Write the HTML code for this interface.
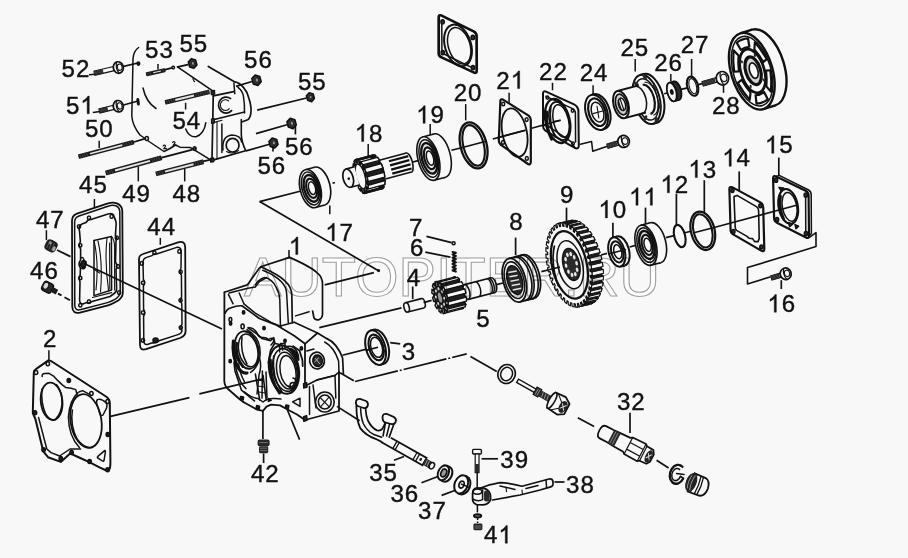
<!DOCTYPE html>
<html><head><meta charset="utf-8"><title>diagram</title>
<style>
html,body{margin:0;padding:0;background:#f8f8f8;}
body{width:908px;height:558px;overflow:hidden;font-family:"Liberation Sans",sans-serif;}
svg{display:block;}
svg text{font-family:"Liberation Sans",sans-serif;}
</style></head><body>
<svg width="908" height="558" viewBox="0 0 908 558">
<rect width="908" height="558" fill="#f8f8f8"/>
<text x="244" y="296" font-size="56" fill="#ffffff" stroke="none">AUTOPITER.RU</text>
<line x1="89" y1="74.7" x2="95" y2="74.2" stroke="#111111" stroke-width="1.5" stroke-linecap="butt"/>
<line x1="92.8" y1="112.4" x2="100.3" y2="111.6" stroke="#111111" stroke-width="1.5" stroke-linecap="butt"/>
<line x1="99.2" y1="140.7" x2="99.2" y2="148" stroke="#111111" stroke-width="1.5" stroke-linecap="butt"/>
<line x1="158" y1="64" x2="158" y2="69.5" stroke="#111111" stroke-width="1.5" stroke-linecap="butt"/>
<line x1="185.6" y1="102.8" x2="185.6" y2="109.5" stroke="#111111" stroke-width="1.5" stroke-linecap="butt"/>
<line x1="138.3" y1="166.4" x2="138.3" y2="181.4" stroke="#111111" stroke-width="1.5" stroke-linecap="butt"/>
<line x1="184.7" y1="168.9" x2="184.7" y2="181.4" stroke="#111111" stroke-width="1.5" stroke-linecap="butt"/>
<g transform="translate(94.4 73.2) rotate(-13.3)">
<rect x="0" y="-2.1" width="19.6" height="4.2" fill="#f8f8f8" stroke="#111111" stroke-width="1.1"/>
<rect x="0" y="-2.4" width="9" height="4.8" rx="1" fill="#2a2a2a"/>
<line x1="1.2" y1="-1.2" x2="1.8" y2="1.2" stroke="#606060" stroke-width="0.55"/>
<line x1="3.4" y1="-1.2" x2="4" y2="1.2" stroke="#606060" stroke-width="0.55"/>
<line x1="5.6" y1="-1.2" x2="6.2" y2="1.2" stroke="#606060" stroke-width="0.55"/>
<line x1="7.8" y1="-1.2" x2="8.4" y2="1.2" stroke="#606060" stroke-width="0.55"/>
<ellipse cx="24.6" cy="0" rx="5" ry="5.8" fill="#f8f8f8" stroke="#111111" stroke-width="1.7"/>
<path d="M24,-5.3 Q21.4,0 24,5.3" fill="none" stroke="#111111" stroke-width="1.2"/>
<ellipse cx="26" cy="0" rx="2.4" ry="3.2" fill="none" stroke="#111111" stroke-width="1.1"/>
</g>
<line x1="123.5" y1="66.3" x2="138" y2="63" stroke="#111111" stroke-width="1.7" stroke-linecap="butt"/>
<ellipse cx="138.4" cy="63.6" rx="1.3" ry="1.6" fill="#222" stroke="#111111" stroke-width="1.5"/>
<g transform="translate(99.4 111) rotate(-14.1)">
<rect x="0" y="-2.1" width="14.5" height="4.2" fill="#f8f8f8" stroke="#111111" stroke-width="1.1"/>
<rect x="0" y="-2.4" width="8.6" height="4.8" rx="1" fill="#2a2a2a"/>
<line x1="1.2" y1="-1.2" x2="1.8" y2="1.2" stroke="#606060" stroke-width="0.55"/>
<line x1="3.4" y1="-1.2" x2="4" y2="1.2" stroke="#606060" stroke-width="0.55"/>
<line x1="5.6" y1="-1.2" x2="6.2" y2="1.2" stroke="#606060" stroke-width="0.55"/>
<ellipse cx="19.5" cy="0" rx="5" ry="5.8" fill="#f8f8f8" stroke="#111111" stroke-width="1.7"/>
<path d="M18.9,-5.3 Q16.3,0 18.9,5.3" fill="none" stroke="#111111" stroke-width="1.2"/>
<ellipse cx="20.9" cy="0" rx="2.4" ry="3.2" fill="none" stroke="#111111" stroke-width="1.1"/>
</g>
<line x1="123.5" y1="105" x2="137.2" y2="101.2" stroke="#111111" stroke-width="1.7" stroke-linecap="butt"/>
<path d="M137.8,99.4 L138.4,104" fill="none" stroke="#111111" stroke-width="2.9" stroke-linejoin="round" stroke-linecap="round" />
<g transform="translate(78.4 156.8) rotate(-14.9)">
<rect x="0" y="-2.3" width="57.5" height="4.6" rx="0.8" fill="#1c1c1c"/>
<rect x="12" y="-0.8" width="33.5" height="1.7" fill="#e4e4e4"/>
<line x1="1.6" y1="-1.4" x2="2.1" y2="1.4" stroke="#606060" stroke-width="0.55"/>
<line x1="4" y1="-1.4" x2="4.5" y2="1.4" stroke="#606060" stroke-width="0.55"/>
<line x1="6.4" y1="-1.4" x2="6.9" y2="1.4" stroke="#606060" stroke-width="0.55"/>
<line x1="8.8" y1="-1.4" x2="9.3" y2="1.4" stroke="#606060" stroke-width="0.55"/>
<line x1="47.4" y1="-1.4" x2="47.9" y2="1.4" stroke="#606060" stroke-width="0.55"/>
<line x1="49.8" y1="-1.4" x2="50.3" y2="1.4" stroke="#606060" stroke-width="0.55"/>
<line x1="52.2" y1="-1.4" x2="52.7" y2="1.4" stroke="#606060" stroke-width="0.55"/>
<line x1="54.6" y1="-1.4" x2="55.1" y2="1.4" stroke="#606060" stroke-width="0.55"/>
</g>
<line x1="134" y1="142" x2="146" y2="138.4" stroke="#111111" stroke-width="1.7" stroke-linecap="butt"/>
<g transform="translate(105.6 173.2) rotate(-15.5)">
<rect x="0" y="-2.5" width="58.3" height="4.9" rx="0.8" fill="#1c1c1c"/>
<rect x="9.8" y="-1" width="36.3" height="2" fill="#e4e4e4"/>
<line x1="1.6" y1="-1.6" x2="2.1" y2="1.6" stroke="#606060" stroke-width="0.55"/>
<line x1="4" y1="-1.6" x2="4.5" y2="1.6" stroke="#606060" stroke-width="0.55"/>
<line x1="6.4" y1="-1.6" x2="6.9" y2="1.6" stroke="#606060" stroke-width="0.55"/>
<line x1="48.1" y1="-1.6" x2="48.6" y2="1.6" stroke="#606060" stroke-width="0.55"/>
<line x1="50.5" y1="-1.6" x2="51" y2="1.6" stroke="#606060" stroke-width="0.55"/>
<line x1="52.9" y1="-1.6" x2="53.4" y2="1.6" stroke="#606060" stroke-width="0.55"/>
<line x1="55.3" y1="-1.6" x2="55.8" y2="1.6" stroke="#606060" stroke-width="0.55"/>
</g>
<line x1="161.8" y1="157.6" x2="192.5" y2="149.6" stroke="#111111" stroke-width="1.7" stroke-linecap="butt"/>
<g transform="translate(155.8 174) rotate(-14.5)">
<rect x="0" y="-2.5" width="49.4" height="4.9" rx="0.8" fill="#1c1c1c"/>
<rect x="9.4" y="-1" width="29.6" height="2" fill="#e4e4e4"/>
<line x1="1.6" y1="-1.6" x2="2.1" y2="1.6" stroke="#606060" stroke-width="0.55"/>
<line x1="4" y1="-1.6" x2="4.5" y2="1.6" stroke="#606060" stroke-width="0.55"/>
<line x1="6.4" y1="-1.6" x2="6.9" y2="1.6" stroke="#606060" stroke-width="0.55"/>
<line x1="40.9" y1="-1.6" x2="41.4" y2="1.6" stroke="#606060" stroke-width="0.55"/>
<line x1="43.3" y1="-1.6" x2="43.8" y2="1.6" stroke="#606060" stroke-width="0.55"/>
<line x1="45.7" y1="-1.6" x2="46.2" y2="1.6" stroke="#606060" stroke-width="0.55"/>
<line x1="48.1" y1="-1.6" x2="48.6" y2="1.6" stroke="#606060" stroke-width="0.55"/>
</g>
<line x1="203" y1="161.4" x2="211" y2="159.6" stroke="#111111" stroke-width="1.7" stroke-linecap="butt"/>
<g transform="translate(165 102.4) rotate(-13.4)">
<rect x="0" y="-2.4" width="45.8" height="4.8" rx="0.8" fill="#1c1c1c"/>
<rect x="10.6" y="-0.9" width="19.2" height="1.9" fill="#e4e4e4"/>
<line x1="1.6" y1="-1.5" x2="2.1" y2="1.5" stroke="#606060" stroke-width="0.55"/>
<line x1="4" y1="-1.5" x2="4.5" y2="1.5" stroke="#606060" stroke-width="0.55"/>
<line x1="6.4" y1="-1.5" x2="6.9" y2="1.5" stroke="#606060" stroke-width="0.55"/>
<line x1="8.8" y1="-1.5" x2="9.3" y2="1.5" stroke="#606060" stroke-width="0.55"/>
<line x1="31.7" y1="-1.5" x2="32.2" y2="1.5" stroke="#606060" stroke-width="0.55"/>
<line x1="34.1" y1="-1.5" x2="34.6" y2="1.5" stroke="#606060" stroke-width="0.55"/>
<line x1="36.5" y1="-1.5" x2="37" y2="1.5" stroke="#606060" stroke-width="0.55"/>
<line x1="38.9" y1="-1.5" x2="39.4" y2="1.5" stroke="#606060" stroke-width="0.55"/>
<line x1="41.3" y1="-1.5" x2="41.8" y2="1.5" stroke="#606060" stroke-width="0.55"/>
<line x1="43.7" y1="-1.5" x2="44.2" y2="1.5" stroke="#606060" stroke-width="0.55"/>
</g>
<g transform="translate(146 74.4) rotate(-12.8)">
<rect x="0" y="-2" width="19.8" height="4" rx="0.8" fill="#1c1c1c"/>
<rect x="7.4" y="-0.6" width="7.9" height="1.1" fill="#e4e4e4"/>
<line x1="1.6" y1="-1.1" x2="2.1" y2="1.1" stroke="#606060" stroke-width="0.55"/>
<line x1="4" y1="-1.1" x2="4.5" y2="1.1" stroke="#606060" stroke-width="0.55"/>
<line x1="17.2" y1="-1.1" x2="17.7" y2="1.1" stroke="#606060" stroke-width="0.55"/>
</g>
<line x1="164.3" y1="69.8" x2="172" y2="67.9" stroke="#111111" stroke-width="1.7" stroke-linecap="butt"/>
<ellipse cx="173.2" cy="67.6" rx="1.3" ry="1.3" fill="none" stroke="#111111" stroke-width="1.5"/>
<g transform="translate(192.6 63.5) rotate(-15)">
<polygon points="3.8,2.5 0,5 -3.8,2.5 -3.8,-2.5 -0,-5 3.8,-2.5" fill="#333" stroke="#111111" stroke-width="1.6" stroke-linejoin="round"/>
<ellipse cx="0.3" cy="0" rx="1.5" ry="1.9" fill="#999" stroke="#111111" stroke-width="0.8"/>
</g>
<line x1="176.8" y1="67.2" x2="188" y2="64.6" stroke="#111111" stroke-width="1.8" stroke-linecap="butt"/>
<g transform="translate(256.5 80.2) rotate(-15)">
<polygon points="4.1,2.7 0,5.4 -4.1,2.7 -4.1,-2.7 -0,-5.4 4.1,-2.7" fill="#333" stroke="#111111" stroke-width="1.6" stroke-linejoin="round"/>
<ellipse cx="0.3" cy="0" rx="1.6" ry="2.1" fill="#999" stroke="#111111" stroke-width="0.8"/>
</g>
<line x1="236" y1="86.4" x2="252" y2="81.5" stroke="#111111" stroke-width="1.7" stroke-linecap="butt"/>
<g transform="translate(310.4 97.2) rotate(-15)">
<polygon points="3.5,2.3 0,4.6 -3.5,2.3 -3.5,-2.3 -0,-4.6 3.5,-2.3" fill="#333" stroke="#111111" stroke-width="1.6" stroke-linejoin="round"/>
<ellipse cx="0.3" cy="0" rx="1.4" ry="1.7" fill="#999" stroke="#111111" stroke-width="0.8"/>
</g>
<line x1="257.2" y1="110.2" x2="306.5" y2="98" stroke="#111111" stroke-width="1.7" stroke-linecap="butt"/>
<g transform="translate(291.6 123.4) rotate(-15)">
<polygon points="4.1,2.7 0,5.4 -4.1,2.7 -4.1,-2.7 -0,-5.4 4.1,-2.7" fill="#333" stroke="#111111" stroke-width="1.6" stroke-linejoin="round"/>
<ellipse cx="0.3" cy="0" rx="1.6" ry="2.1" fill="#999" stroke="#111111" stroke-width="0.8"/>
</g>
<line x1="256" y1="133.6" x2="287" y2="124.8" stroke="#111111" stroke-width="1.7" stroke-linecap="butt"/>
<line x1="295.4" y1="125.4" x2="295.4" y2="134.4" stroke="#111111" stroke-width="1.7" stroke-linecap="butt"/>
<g transform="translate(273.5 143) rotate(-15)">
<polygon points="4,2.6 0,5.2 -4,2.6 -4,-2.6 -0,-5.2 4,-2.6" fill="#333" stroke="#111111" stroke-width="1.6" stroke-linejoin="round"/>
<ellipse cx="0.3" cy="0" rx="1.6" ry="2" fill="#999" stroke="#111111" stroke-width="0.8"/>
</g>
<line x1="246" y1="150.9" x2="269.5" y2="144.2" stroke="#111111" stroke-width="1.7" stroke-linecap="butt"/>
<line x1="273" y1="146" x2="273" y2="151.6" stroke="#111111" stroke-width="1.7" stroke-linecap="butt"/>
<path d="M138.6,47.5 C135,50 133.2,54 133,59 L131.8,116 C132.5,125 136,130 140,135 L145,138.5" fill="none" stroke="#111111" stroke-width="1.5" stroke-linejoin="round" stroke-linecap="round" />
<ellipse cx="146.8" cy="138.6" rx="1.6" ry="2" fill="none" stroke="#111111" stroke-width="1.5"/>
<path d="M147.5,140.5 L164,151.5 L170,148.5 L175.5,145 L180,147.2 L190.5,147.6 L196.7,151.4 L211,160.2" fill="none" stroke="#111111" stroke-width="1.5" stroke-linejoin="round" stroke-linecap="round" />
<path d="M163,146 q1.5,-1.8 2.6,0 q-0.5,1.6 -2,2.6 l3,0" fill="none" stroke="#111111" stroke-width="1.1" stroke-linejoin="round" stroke-linecap="round" />
<path d="M172.5,142.5 q1.5,-1.8 2.6,0 q-0.5,1.6 -2,2.6 l3,0" fill="none" stroke="#111111" stroke-width="1.1" stroke-linejoin="round" stroke-linecap="round" />
<ellipse cx="194.6" cy="148.6" rx="1.6" ry="1.8" fill="#444" stroke="#111111" stroke-width="1.5"/>
<path d="M177.8,67.2 L213,91.2" fill="none" stroke="#111111" stroke-width="1.6" stroke-linejoin="round" stroke-linecap="round" />
<path d="M192.6,79 q1.6,-0.6 1.2,1 q-0.6,1.4 0.8,1.6" fill="none" stroke="#111111" stroke-width="1.1" stroke-linejoin="round" stroke-linecap="round" />
<path d="M143,88 Q146,102 156,108.5" fill="none" stroke="#111111" stroke-width="1.5" stroke-linejoin="round" stroke-linecap="round" />
<path d="M185.7,129 Q189,137.5 196,136.8 Q204,134 205.8,122.8" fill="none" stroke="#111111" stroke-width="1.5" stroke-linejoin="round" stroke-linecap="round" />
<path d="M213.3,93 L212,160.4 L245.6,150.8" fill="none" stroke="#111111" stroke-width="1.7" stroke-linejoin="round" stroke-linecap="round" />
<path d="M211.2,91 l3.2,-0.6 l0.2,3.6 l-3.2,0.5 Z" fill="#333" stroke="#111111" stroke-width="1.5" stroke-linejoin="round" stroke-linecap="round" />
<path d="M210.6,158.6 l3,-0.6 l0.2,3.4 l-3,0.6 Z" fill="#333" stroke="#111111" stroke-width="1.5" stroke-linejoin="round" stroke-linecap="round" />
<path d="M208.3,66.4 L234.8,81.9 C241,83 247,90 248.8,98 Q251.4,106 251,111.5 Q250.6,118 247.7,119.8 L242.4,121.7" fill="none" stroke="#111111" stroke-width="1.7" stroke-linejoin="round" stroke-linecap="round" />
<path d="M233.9,83 L234.8,93.7" fill="none" stroke="#111111" stroke-width="1.5" stroke-linejoin="round" stroke-linecap="round" />
<path d="M213.3,95.9 L233.7,91.6" fill="none" stroke="#111111" stroke-width="1.6" stroke-linejoin="round" stroke-linecap="round" />
<path d="M238,87.3 Q242.6,91 243.4,96 Q244.8,104 244.5,113" fill="none" stroke="#111111" stroke-width="1.5" stroke-linejoin="round" stroke-linecap="round" />
<path d="M213.3,119.8 L244.5,112" fill="none" stroke="#111111" stroke-width="1.6" stroke-linejoin="round" stroke-linecap="round" />
<path d="M213.3,122.6 L222,120.2" fill="none" stroke="#111111" stroke-width="1.1" stroke-linejoin="round" stroke-linecap="round" />
<path d="M211.4,119 l3,-0.5 l0.1,4.4 l-3,0.5 Z" fill="#333" stroke="#111111" stroke-width="1.1" stroke-linejoin="round" stroke-linecap="round" />
<path d="M241.3,119.6 L241.3,134.6 Q241.6,142 245.6,150.4" fill="none" stroke="#111111" stroke-width="1.6" stroke-linejoin="round" stroke-linecap="round" />
<path d="M221.9,123.9 L221.9,152.6" fill="none" stroke="#111111" stroke-width="1.5" stroke-linejoin="round" stroke-linecap="round" />
<path d="M217,122 L217,158.6" fill="none" stroke="#111111" stroke-width="1.1" stroke-linejoin="round" stroke-linecap="round" />
<path d="M230.6,98.6 A7.6,8 0 1 0 231.6,110.6" fill="none" stroke="#111111" stroke-width="1.7" stroke-linejoin="round" stroke-linecap="round" />
<path d="M228.6,101 A5,5.4 0 1 0 229.2,108.6" fill="none" stroke="#111111" stroke-width="1.1" stroke-linejoin="round" stroke-linecap="round" />
<ellipse cx="232.6" cy="145.2" rx="6.4" ry="6.8" fill="none" stroke="#111111" stroke-width="1.7"/>
<path d="M223,150 Q221.6,136 232,135 Q241,135.6 241.6,142" fill="none" stroke="#111111" stroke-width="1.5" stroke-linejoin="round" stroke-linecap="round" />
<path d="M226.5,151.5 Q232,155 238.6,150.6" fill="none" stroke="#111111" stroke-width="1.1" stroke-linejoin="round" stroke-linecap="round" />
<line x1="94.4" y1="199" x2="94.4" y2="207" stroke="#111111" stroke-width="1.5" stroke-linecap="butt"/>
<line x1="160.3" y1="237.9" x2="160.3" y2="244.8" stroke="#111111" stroke-width="1.5" stroke-linecap="butt"/>
<line x1="46.4" y1="230.2" x2="46.4" y2="240.2" stroke="#111111" stroke-width="1.5" stroke-linecap="butt"/>
<line x1="48.9" y1="350.3" x2="48.9" y2="360.5" stroke="#111111" stroke-width="1.5" stroke-linecap="butt"/>
<g transform="translate(51.6 246.2) rotate(27)">
<rect x="-6.6" y="-5.8" width="12" height="11.6" rx="4" fill="#1c1c1c"/>
<line x1="-4" y1="-4" x2="-3.6" y2="4" stroke="#6a6a6a" stroke-width="0.7"/>
<line x1="-1.4" y1="-4" x2="-1" y2="4" stroke="#6a6a6a" stroke-width="0.7"/>
<line x1="1.2" y1="-4" x2="1.6" y2="4" stroke="#6a6a6a" stroke-width="0.7"/>
<ellipse cx="3.2" cy="1.2" rx="1.5" ry="2.6" fill="#aaa"/>
<ellipse cx="-2.6" cy="-2.4" rx="1.2" ry="1.6" fill="#999"/>
</g>
<line x1="57" y1="250" x2="70.5" y2="256.6" stroke="#111111" stroke-width="1.8" stroke-linecap="butt"/>
<g transform="translate(48.6 287.8) rotate(27)">
<rect x="-6.4" y="-5" width="10.4" height="10" rx="3" fill="#2a2a2a" stroke="#111111" stroke-width="1.4"/>
<ellipse cx="-3.4" cy="-0.6" rx="2.6" ry="3.6" fill="#d8d8d8" stroke="#111111" stroke-width="1"/>
<rect x="4" y="-2.6" width="5.4" height="5.2" fill="#1c1c1c"/>
</g>
<line x1="58" y1="293.6" x2="61.5" y2="295.4" stroke="#111111" stroke-width="1.8" stroke-linecap="butt"/>
<line x1="64.5" y1="297.2" x2="70" y2="300.2" stroke="#111111" stroke-width="1.8" stroke-linecap="butt"/>
<path d="M72,221 Q72,215.5 77,213.6 L108,203.4 Q113,201.6 117.5,203.6 Q122.3,206 122.3,211 L122.8,293 Q122.6,298.5 116,301.8 Q112,304.2 108,305.3 L80,312.6 Q72.6,314.2 72.3,307 Z" fill="none" stroke="#111111" stroke-width="1.8" stroke-linejoin="round" stroke-linecap="round" />
<path d="M74.6,222.5 Q74.6,217.5 79,216 L108,206.2 Q113,204.4 116.5,206 Q119.8,208 119.8,212 L120.2,292 Q120,296.5 115,299.4 Q111,301.6 107.5,302.6 L81,309.6 Q75,311 74.8,305.6 Z" fill="none" stroke="#111111" stroke-width="1.5" stroke-linejoin="round" stroke-linecap="round" />
<path d="M79.5,231 Q78,226 82,224 L86,222.5 Q88,219 91,219.6 L108,214 Q112,212.5 113.5,215 L115,219 Q116.6,222 116,226 L115.4,236 Q117.5,238 116,241 L115.5,262 Q118,266 116,269.5 L116.6,288 Q117,292 113.5,294 L110,296.5 L92,301.4 Q89,304 86.6,302.6 L83,304 Q79.6,304 79.6,300 L80,282 Q78.4,278 80.2,275 L80.4,268 Q77.6,264 80.6,260 L80.6,249 Q78,245 80.4,241.6 Z" fill="none" stroke="#111111" stroke-width="1.6" stroke-linejoin="round" stroke-linecap="round" />
<ellipse cx="79" cy="226.6" rx="1.6" ry="1.8" fill="none" stroke="#111111" stroke-width="1.5"/>
<ellipse cx="89" cy="217.8" rx="1.6" ry="1.8" fill="none" stroke="#111111" stroke-width="1.5"/>
<ellipse cx="111.6" cy="216.4" rx="1.6" ry="1.8" fill="none" stroke="#111111" stroke-width="1.5"/>
<ellipse cx="116.8" cy="237.8" rx="1.6" ry="1.8" fill="none" stroke="#111111" stroke-width="1.5"/>
<ellipse cx="117.9" cy="266.4" rx="1.6" ry="1.8" fill="none" stroke="#111111" stroke-width="1.5"/>
<ellipse cx="119.1" cy="292.6" rx="1.6" ry="1.8" fill="none" stroke="#111111" stroke-width="1.5"/>
<ellipse cx="89" cy="301.6" rx="1.6" ry="1.8" fill="none" stroke="#111111" stroke-width="1.5"/>
<ellipse cx="80.3" cy="305.2" rx="1.6" ry="1.8" fill="none" stroke="#111111" stroke-width="1.5"/>
<ellipse cx="80.3" cy="278" rx="1.6" ry="1.8" fill="none" stroke="#111111" stroke-width="1.5"/>
<ellipse cx="80.3" cy="245.2" rx="1.6" ry="1.8" fill="none" stroke="#111111" stroke-width="1.5"/>
<ellipse cx="83.4" cy="264" rx="2.6" ry="3.4" fill="#222" stroke="#111111" stroke-width="1.5" transform="rotate(20 83.4 264)"/>
<path d="M80.6,258 q3,-2 3.4,3 M81,268 q3,2 4.4,-1" fill="none" stroke="#111111" stroke-width="1.5" stroke-linejoin="round" stroke-linecap="round" />
<path d="M94,240.4 L111.4,236.4 L111.6,290 L94,295.6 Z" fill="none" stroke="#111111" stroke-width="1.5" stroke-linejoin="round" stroke-linecap="round" />
<path d="M94,240.4 Q99,262 96,290 M98,241 Q103,262 100.5,292" fill="none" stroke="#111111" stroke-width="1.1" stroke-linejoin="round" stroke-linecap="round" />
<path d="M107,238 Q104.4,262 108.6,290.6 M109.6,243 L109.8,289" fill="none" stroke="#111111" stroke-width="1.1" stroke-linejoin="round" stroke-linecap="round" />
<path d="M111.4,236.4 Q115,240 114.6,250 L114.6,290 M92.4,297.5 L111.6,292.6" fill="none" stroke="#111111" stroke-width="1.1" stroke-linejoin="round" stroke-linecap="round" />
<path d="M93.6,269 L99.6,273" fill="none" stroke="#111111" stroke-width="1.1" stroke-linejoin="round" stroke-linecap="round" />
<line x1="84" y1="263.6" x2="222" y2="329" stroke="#111111" stroke-width="1.7" stroke-linecap="butt"/>
<path d="M139,259 Q139,255.2 143,254 L178,242.4 Q185,240.4 185.2,247 L185.6,331 Q185.6,336 180,338 L146,349.2 Q140,350.8 140,345 Z" fill="none" stroke="#111111" stroke-width="1.8" stroke-linejoin="round" stroke-linecap="round" />
<path d="M143,263.5 Q142.6,258.6 146.6,257.4 L152,255.6 Q154,253 156.6,254 L176,247.6 Q181,246.4 181.2,251 L181,268 Q179,272 181.4,275 L181.6,297 Q179.4,300.4 181.8,303.6 L182,324 Q179.8,328 182,330.6 Q182,333.4 178,334.6 L159,340.8 Q155.6,343.6 152.4,342.8 L148,344.2 Q143.8,345.2 143.8,341 L143.6,316 Q146,312.6 143.6,309.4 L143.4,286 Q146,282.6 143.4,279.6 Z" fill="none" stroke="#111111" stroke-width="1.5" stroke-linejoin="round" stroke-linecap="round" />
<ellipse cx="141.8" cy="263.4" rx="1.6" ry="1.8" fill="none" stroke="#111111" stroke-width="1.5"/>
<ellipse cx="154.4" cy="252.8" rx="1.6" ry="1.8" fill="none" stroke="#111111" stroke-width="1.5"/>
<ellipse cx="179.4" cy="251.4" rx="1.6" ry="1.8" fill="none" stroke="#111111" stroke-width="1.5"/>
<ellipse cx="180.6" cy="271.8" rx="1.6" ry="1.8" fill="none" stroke="#111111" stroke-width="1.5"/>
<ellipse cx="143" cy="282.8" rx="1.6" ry="1.8" fill="none" stroke="#111111" stroke-width="1.5"/>
<ellipse cx="180.6" cy="300.2" rx="1.6" ry="1.8" fill="none" stroke="#111111" stroke-width="1.5"/>
<ellipse cx="143" cy="312.6" rx="1.6" ry="1.8" fill="none" stroke="#111111" stroke-width="1.5"/>
<ellipse cx="180.8" cy="327.6" rx="1.6" ry="1.8" fill="none" stroke="#111111" stroke-width="1.5"/>
<ellipse cx="143" cy="340.4" rx="1.6" ry="1.8" fill="none" stroke="#111111" stroke-width="1.5"/>
<ellipse cx="155.6" cy="340.2" rx="2.6" ry="2.2" fill="#222" stroke="#111111" stroke-width="1.5"/>
<path d="M48,360.6 Q50.4,360.2 52.6,362 L106,396.5 Q109.8,399 109.8,403 L110.4,462 Q110.6,471 107.4,471 L100,467.6 L88.8,461.9 L78,457 L70.1,453.4 L60.8,461.9 L48,457.2 L43.3,451.4 L35.4,419 L32.8,413 L33.8,372.6 Q34,370 36.6,368.6 Z" fill="none" stroke="#111111" stroke-width="2" stroke-linejoin="round" stroke-linecap="round" />
<ellipse cx="51.6" cy="401.3" rx="10.8" ry="18.8" fill="none" stroke="#111111" stroke-width="1.8" transform="rotate(-6 51.6 401.3)"/>
<path d="M42,389 Q40.6,402 45.6,414 Q49.6,420.6 55,419.8" fill="none" stroke="#111111" stroke-width="1.5" stroke-linejoin="round" stroke-linecap="round" />
<ellipse cx="86" cy="421" rx="15.4" ry="27" fill="none" stroke="#111111" stroke-width="1.8" transform="rotate(-9 86 421)"/>
<path d="M72.4,410 Q70,425 77,439 Q84,448.6 92,447.6" fill="none" stroke="#111111" stroke-width="1.5" stroke-linejoin="round" stroke-linecap="round" />
<path d="M56.6,384.6 Q62.6,392 62,404 Q61,413.6 56,418.6" fill="none" stroke="#111111" stroke-width="1.5" stroke-linejoin="round" stroke-linecap="round" />
<path d="M78,392.6 Q69.6,400 68.4,417 Q68.6,436 79.4,447.6" fill="none" stroke="#111111" stroke-width="1.5" stroke-linejoin="round" stroke-linecap="round" />
<path d="M42.2,376.6 Q41.6,373.6 45,373.4 L48.6,373.2 L54,376.4 L57.6,380.4 L62,384.6 L65.6,387.4 L71,388.2 L75.8,389.6 L77.2,395.6" fill="none" stroke="#111111" stroke-width="1.5" stroke-linejoin="round" stroke-linecap="round" />
<path d="M79,392 L82.6,390.6 L90,394.6" fill="none" stroke="#111111" stroke-width="1.5" stroke-linejoin="round" stroke-linecap="round" />
<path d="M97.4,399.6 Q101,398 106,402.6 Q107.6,404 106.6,408 L103,415 Q100.6,416.6 99.6,413 L96.6,403 Q96.4,400.6 97.4,399.6 Z" fill="none" stroke="#111111" stroke-width="1.5" stroke-linejoin="round" stroke-linecap="round" />
<path d="M97.6,456.6 L104.6,450.6 Q105.6,450.4 105.4,452 L104,460.6 Q103.6,461.8 102.4,461 L97.8,458 Q97,457.4 97.6,456.6 Z" fill="none" stroke="#111111" stroke-width="1.5" stroke-linejoin="round" stroke-linecap="round" />
<path d="M38.6,417.6 L46.8,449 L51,452.6 L59.6,456 L70.1,449 L80.6,449" fill="none" stroke="#111111" stroke-width="1.5" stroke-linejoin="round" stroke-linecap="round" />
<ellipse cx="47.8" cy="363.8" rx="1.7" ry="2" fill="none" stroke="#111111" stroke-width="1.5"/>
<ellipse cx="36" cy="372.4" rx="1.7" ry="2" fill="none" stroke="#111111" stroke-width="1.5"/>
<ellipse cx="68.8" cy="380.4" rx="1.7" ry="2" fill="#222" stroke="#111111" stroke-width="1.5"/>
<ellipse cx="91.4" cy="393.4" rx="1.7" ry="2" fill="none" stroke="#111111" stroke-width="1.5"/>
<ellipse cx="107.6" cy="401.6" rx="1.7" ry="2" fill="none" stroke="#111111" stroke-width="1.5"/>
<ellipse cx="35" cy="412.8" rx="1.7" ry="2" fill="#222" stroke="#111111" stroke-width="1.5"/>
<ellipse cx="43.6" cy="449.8" rx="1.7" ry="2" fill="#222" stroke="#111111" stroke-width="1.5"/>
<ellipse cx="60.8" cy="458.6" rx="1.7" ry="2" fill="#222" stroke="#111111" stroke-width="1.5"/>
<ellipse cx="71.6" cy="452.4" rx="1.7" ry="2" fill="#222" stroke="#111111" stroke-width="1.5"/>
<ellipse cx="89.6" cy="461.4" rx="1.7" ry="2" fill="#222" stroke="#111111" stroke-width="1.5"/>
<ellipse cx="107.6" cy="469.8" rx="1.7" ry="2" fill="#222" stroke="#111111" stroke-width="1.5"/>
<ellipse cx="107.8" cy="434.6" rx="1.7" ry="2" fill="#222" stroke="#111111" stroke-width="1.5"/>
<line x1="110.6" y1="416.4" x2="189.4" y2="397.7" stroke="#111111" stroke-width="1.7" stroke-linecap="butt"/>
<line x1="199.4" y1="393.9" x2="263" y2="378.8" stroke="#111111" stroke-width="1.7" stroke-linecap="butt"/>
<line x1="289" y1="250" x2="289" y2="257.6" stroke="#111111" stroke-width="1.5" stroke-linecap="butt"/>
<path d="M224.4,292.3 L224.3,381 Q224.6,386 228,389 L240,399.5 Q243,402 246,403.5 L257,409.6 L263,410.8 L266.5,406.6 L271,404.7 L280,405.4 L287,409.2 L297,414.5 L305,420 L339,411 L339,372" fill="none" stroke="#111111" stroke-width="1.8" stroke-linejoin="round" stroke-linecap="round" />
<path d="M224.4,292.3 L247.3,284.9 L259.4,268.1 L260.7,266.8 L289.6,257.4" fill="none" stroke="#111111" stroke-width="1.7" stroke-linejoin="round" stroke-linecap="round" />
<path d="M229.1,293 L247.9,288.3 L255.3,287 L259.4,281.6 L266.7,277.6" fill="none" stroke="#111111" stroke-width="1.5" stroke-linejoin="round" stroke-linecap="round" />
<path d="M228.4,294.4 L233.1,303.8 M239.2,293 L243.9,303.8" fill="none" stroke="#111111" stroke-width="1.5" stroke-linejoin="round" stroke-linecap="round" />
<path d="M289.6,257.4 C300,262 312,268 317.2,272.8 Q322.5,277 322.5,284 L322.5,314.5 Q322,318.6 319,319.6 Q315.6,320.4 314,318 L312.6,311" fill="none" stroke="#111111" stroke-width="1.7" stroke-linejoin="round" stroke-linecap="round" />
<path d="M260.7,266.8 C268,270 279,275 284.9,280.9 Q291.6,287 291.8,295 L292.3,322.6" fill="none" stroke="#111111" stroke-width="1.7" stroke-linejoin="round" stroke-linecap="round" />
<path d="M262.7,270.2 C270,273 278,278 281.6,282 Q286.2,287 286.6,293 L288.3,322.8" fill="none" stroke="#111111" stroke-width="1.5" stroke-linejoin="round" stroke-linecap="round" />
<path d="M255.3,284.9 Q259,279 264.7,277.6 Q272,279 276,287 Q279.5,293 279.8,300 L280.4,325" fill="none" stroke="#111111" stroke-width="1.5" stroke-linejoin="round" stroke-linecap="round" />
<path d="M280.4,326 L294.2,322.3" fill="none" stroke="#111111" stroke-width="1.5" stroke-linejoin="round" stroke-linecap="round" />
<path d="M295.6,315.9 L309.1,311.8" fill="none" stroke="#111111" stroke-width="1.5" stroke-linejoin="round" stroke-linecap="round" />
<path d="M294.2,322.3 L317.5,333" fill="none" stroke="#111111" stroke-width="1.5" stroke-linejoin="round" stroke-linecap="round" />
<path d="M225.1,313.2 Q227,309 231.1,307.8 Q237,305.4 241.9,305.8 L259.4,318.5 L275.5,324.6 L294.2,335.7 L305,343.8" fill="none" stroke="#111111" stroke-width="1.7" stroke-linejoin="round" stroke-linecap="round" />
<path d="M243.9,303.8 L255.3,313.2 L271.5,322.6 L281,326.4" fill="none" stroke="#111111" stroke-width="1.5" stroke-linejoin="round" stroke-linecap="round" />
<path d="M305,343.8 L305,384" fill="none" stroke="#111111" stroke-width="1.8" stroke-linejoin="round" stroke-linecap="round" />
<path d="M305,343.8 L317.5,333 L326.5,338.4 Q337,343 342.6,358 L343.4,374" fill="none" stroke="#111111" stroke-width="1.7" stroke-linejoin="round" stroke-linecap="round" />
<path d="M324.7,342 Q334,347 338.6,361 L339,374" fill="none" stroke="#111111" stroke-width="1.5" stroke-linejoin="round" stroke-linecap="round" />
<path d="M306.8,350.9 L313.9,349.1" fill="none" stroke="#111111" stroke-width="1.5" stroke-linejoin="round" stroke-linecap="round" />
<ellipse cx="317" cy="360.6" rx="7.4" ry="8.4" fill="none" stroke="#111111" stroke-width="1.7" transform="rotate(-10 317 360.6)"/>
<ellipse cx="317.6" cy="360.8" rx="4.8" ry="5.8" fill="#2a2a2a" stroke="#111111" stroke-width="1.5" transform="rotate(-10 317.6 360.8)"/>
<path d="M315.4,358.4 L319.6,363.6 M314.6,362 L318.6,358" fill="none" stroke="#bbb" stroke-width="1" stroke-linejoin="round" stroke-linecap="round" />
<path d="M305,386 L317.5,379.8 L335.4,375.2 L339,372" fill="none" stroke="#111111" stroke-width="1.6" stroke-linejoin="round" stroke-linecap="round" />
<path d="M309.5,386.6 L309.5,414.6 M313,385 L316,408" fill="none" stroke="#111111" stroke-width="1.5" stroke-linejoin="round" stroke-linecap="round" />
<path d="M317,380 L335,375.4 L335.8,398" fill="none" stroke="#111111" stroke-width="1.5" stroke-linejoin="round" stroke-linecap="round" />
<ellipse cx="324.8" cy="402" rx="9.4" ry="10" fill="none" stroke="#111111" stroke-width="1.6"/>
<ellipse cx="324.8" cy="402" rx="6.4" ry="7" fill="none" stroke="#111111" stroke-width="1.6"/>
<path d="M320.6,398 L329,406.6 M321,406.4 L328.6,397.6" fill="none" stroke="#111111" stroke-width="1.1" stroke-linejoin="round" stroke-linecap="round" />
<path d="M303.6,383.6 l3,-1 l0.4,4.4 l-3.2,1 Z" fill="#2a2a2a" stroke="#111111" stroke-width="1.5" stroke-linejoin="round" stroke-linecap="round" />
<path d="M303.6,416.6 l3,-1 l0.4,4.6 l-3.2,1 Z" fill="#2a2a2a" stroke="#111111" stroke-width="1.5" stroke-linejoin="round" stroke-linecap="round" />
<ellipse cx="246.7" cy="350" rx="11.8" ry="19" fill="none" stroke="#111111" stroke-width="1.8" transform="rotate(-12 246.7 350)"/>
<ellipse cx="248.2" cy="350.4" rx="9.4" ry="16.6" fill="none" stroke="#111111" stroke-width="1.5" transform="rotate(-12 248.2 350.4)"/>
<path d="M236.6,343 Q235,356 243,366.6" fill="none" stroke="#111111" stroke-width="2.7" stroke-linejoin="round" stroke-linecap="round" />
<path d="M242,337 Q240,352 247,364" fill="none" stroke="#111111" stroke-width="1.5" stroke-linejoin="round" stroke-linecap="round" />
<ellipse cx="284" cy="369.6" rx="14.8" ry="24.4" fill="none" stroke="#111111" stroke-width="2" transform="rotate(-10 284 369.6)"/>
<ellipse cx="285.4" cy="370" rx="12.4" ry="21.6" fill="none" stroke="#111111" stroke-width="1.6" transform="rotate(-10 285.4 370)"/>
<ellipse cx="286.8" cy="370.6" rx="10" ry="18.6" fill="none" stroke="#111111" stroke-width="1.5" transform="rotate(-10 286.8 370.6)"/>
<ellipse cx="288" cy="371.2" rx="7.8" ry="15.8" fill="none" stroke="#111111" stroke-width="1.5" transform="rotate(-10 288 371.2)"/>
<path d="M270.4,360 Q269.6,380 279.6,393" fill="none" stroke="#111111" stroke-width="2.9" stroke-linejoin="round" stroke-linecap="round" />
<path d="M273.6,356 Q272,378 282,392" fill="none" stroke="#111111" stroke-width="1.5" stroke-linejoin="round" stroke-linecap="round" />
<path d="M288,386 Q293,391 296.4,385 Q297.6,379 293,378" fill="none" stroke="#111111" stroke-width="1.6" stroke-linejoin="round" stroke-linecap="round" />
<ellipse cx="292.6" cy="386" rx="2.6" ry="3.4" fill="none" stroke="#111111" stroke-width="1.5"/>
<path d="M247,329.6 Q261.6,338 260,356 Q258.4,367 250.6,372.4" fill="none" stroke="#111111" stroke-width="1.5" stroke-linejoin="round" stroke-linecap="round" />
<path d="M233.4,341 Q231.6,356 238.6,368.4 Q242,373.6 247,373" fill="none" stroke="#111111" stroke-width="3.2" stroke-linejoin="round" stroke-linecap="round" />
<path d="M247.9,327.9 L257.6,334.4 L262,338.6 L270.5,340.8 L273.7,337.6 L274.8,343 L270.5,350.5 L268.3,362.3 L270.5,373" fill="none" stroke="#111111" stroke-width="1.6" stroke-linejoin="round" stroke-linecap="round" />
<path d="M293,346.2 L299.5,350.5 L302.4,360 L302.7,366" fill="none" stroke="#111111" stroke-width="1.8" stroke-linejoin="round" stroke-linecap="round" />
<path d="M291,349 L296.6,352.6 L298.6,360 Z" fill="#2a2a2a" stroke="#111111" stroke-width="1.5" stroke-linejoin="round" stroke-linecap="round" />
<path d="M255.4,374.1 L259.7,399.9 M263,375.2 L266.2,399.9" fill="none" stroke="#111111" stroke-width="1.6" stroke-linejoin="round" stroke-linecap="round" />
<path d="M257.4,380 L263.6,381 M258.2,386 L264.4,387 M259,392 L265.2,393" fill="none" stroke="#111111" stroke-width="1.1" stroke-linejoin="round" stroke-linecap="round" />
<path d="M234,362.3 L235,370.9 L241.5,390.2 L254.4,400.9" fill="none" stroke="#111111" stroke-width="1.6" stroke-linejoin="round" stroke-linecap="round" />
<path d="M280.6,343.6 L285,343.6 L285,348.4 L280.8,348.4" fill="none" stroke="#111111" stroke-width="1.5" stroke-linejoin="round" stroke-linecap="round" />
<ellipse cx="230.6" cy="323.6" rx="1.2" ry="1.6" fill="#222" stroke="#111111" stroke-width="1.5"/>
<ellipse cx="243.6" cy="312.4" rx="1.2" ry="1.6" fill="#222" stroke="#111111" stroke-width="1.5"/>
<ellipse cx="264" cy="328.2" rx="1.2" ry="1.6" fill="#222" stroke="#111111" stroke-width="1.5"/>
<ellipse cx="285" cy="340.8" rx="1.2" ry="1.6" fill="#222" stroke="#111111" stroke-width="1.5"/>
<ellipse cx="230.2" cy="361.2" rx="1.2" ry="1.6" fill="#222" stroke="#111111" stroke-width="1.5"/>
<ellipse cx="301.4" cy="348.4" rx="1.2" ry="1.6" fill="#222" stroke="#111111" stroke-width="1.5"/>
<ellipse cx="230.4" cy="319.6" rx="1.4" ry="2.2" fill="none" stroke="#111111" stroke-width="1.5"/>
<ellipse cx="242.6" cy="326.4" rx="1.6" ry="2.4" fill="none" stroke="#111111" stroke-width="1.5"/>
<path d="M249,327.6 Q254,328 257,333 Q258,337 262,337.6 Q266,337 268.6,339.6 Q270.6,337.4 273.6,338.6 Q274.6,342 271,345" fill="none" stroke="#111111" stroke-width="1.5" stroke-linejoin="round" stroke-linecap="round" />
<path d="M275,343.6 L282,345 L282.6,350 M279.6,345.6 L279.6,352" fill="none" stroke="#111111" stroke-width="1.5" stroke-linejoin="round" stroke-linecap="round" />
<path d="M286.6,346.6 Q293,345 296.6,351 Q299,355 298.6,360" fill="none" stroke="#111111" stroke-width="1.6" stroke-linejoin="round" stroke-linecap="round" />
<path d="M290.6,348.6 Q295,349.6 296.4,356" fill="none" stroke="#111111" stroke-width="1.5" stroke-linejoin="round" stroke-linecap="round" />
<path d="M234.6,360.6 Q236,372 240.6,381.6 Q243,386 246,388.6" fill="none" stroke="#111111" stroke-width="1.5" stroke-linejoin="round" stroke-linecap="round" />
<path d="M238.6,364 Q240,374 244.6,382" fill="none" stroke="#111111" stroke-width="1.5" stroke-linejoin="round" stroke-linecap="round" />
<path d="M259.6,358.6 Q262,366 259,375 L257,394 M262.4,371 L262,398" fill="none" stroke="#111111" stroke-width="1.5" stroke-linejoin="round" stroke-linecap="round" />
<path d="M266,372 L267,398" fill="none" stroke="#111111" stroke-width="1.5" stroke-linejoin="round" stroke-linecap="round" />
<path d="M244.6,392 Q252,398 258,398.6 L263,402 Q268,398 275,398.6 L281,399" fill="none" stroke="#111111" stroke-width="1.5" stroke-linejoin="round" stroke-linecap="round" />
<path d="M240.6,396.4 l3,0.6 l-0.4,3 l-3,-1 Z M256.6,405.6 l3,0.6 l-0.4,3 l-3,-1 Z M285.8,405 l3,0.6 l-0.4,3 l-3,-1 Z" fill="#222" stroke="#111111" stroke-width="1.5" stroke-linejoin="round" stroke-linecap="round" />
<path d="M268.6,398.6 l2.6,1.8 l-2.8,1 Z" fill="#222" stroke="#111111" stroke-width="1.5" stroke-linejoin="round" stroke-linecap="round" />
<path d="M292.6,401.8 L300,398.2 L300,406.4 Z" fill="none" stroke="#111111" stroke-width="1.5" stroke-linejoin="round" stroke-linecap="round" />
<line x1="262.9" y1="411" x2="262.9" y2="439" stroke="#111111" stroke-width="1.7" stroke-linecap="butt"/>
<line x1="287.4" y1="410" x2="299.6" y2="439.6" stroke="#111111" stroke-width="1.7" stroke-linecap="butt"/>
<g transform="translate(263.6 446.2) rotate(0)">
<rect x="-6" y="-6.6" width="12" height="6.6" rx="2" fill="#262626"/>
<rect x="-4.6" y="0" width="9.2" height="7" rx="1.4" fill="#262626"/>
<path d="M-4.4,-3.6 L4.4,-3.6 M-3.6,2 L3.6,2 M-3.6,4.4 L3.6,4.4" stroke="#909090" stroke-width="0.7"/>
</g>
<line x1="263.6" y1="453.4" x2="263.6" y2="463" stroke="#111111" stroke-width="1.7" stroke-linecap="butt"/>
<line x1="319.3" y1="327.6" x2="401.5" y2="307.9" stroke="#111111" stroke-width="1.7" stroke-linecap="butt"/>
<line x1="324.7" y1="284.8" x2="373.9" y2="272.7" stroke="#111111" stroke-width="1.7" stroke-linecap="butt"/>
<line x1="342.5" y1="355.2" x2="367.6" y2="348.9" stroke="#111111" stroke-width="1.7" stroke-linecap="butt"/>
<line x1="340" y1="372.7" x2="353.8" y2="380.8" stroke="#111111" stroke-width="1.7" stroke-linecap="butt"/>
<line x1="337" y1="406.4" x2="359.6" y2="420.8" stroke="#111111" stroke-width="1.7" stroke-linecap="butt"/>
<line x1="329.8" y1="205.4" x2="329.8" y2="214.2" stroke="#111111" stroke-width="1.5" stroke-linecap="butt"/>
<line x1="368.2" y1="143.9" x2="368.2" y2="156.5" stroke="#111111" stroke-width="1.5" stroke-linecap="butt"/>
<line x1="430.2" y1="123.9" x2="430.2" y2="135.1" stroke="#111111" stroke-width="1.5" stroke-linecap="butt"/>
<line x1="465.7" y1="104.1" x2="465.7" y2="120.4" stroke="#111111" stroke-width="1.5" stroke-linecap="butt"/>
<line x1="509.1" y1="92.8" x2="509.1" y2="102.8" stroke="#111111" stroke-width="1.5" stroke-linecap="butt"/>
<line x1="552.5" y1="82.8" x2="552.5" y2="90.3" stroke="#111111" stroke-width="1.5" stroke-linecap="butt"/>
<line x1="593.1" y1="85.3" x2="593.1" y2="94.1" stroke="#111111" stroke-width="1.5" stroke-linecap="butt"/>
<line x1="635.2" y1="58.9" x2="635.2" y2="71.5" stroke="#111111" stroke-width="1.5" stroke-linecap="butt"/>
<line x1="670.8" y1="74" x2="670.8" y2="81.5" stroke="#111111" stroke-width="1.5" stroke-linecap="butt"/>
<line x1="691.6" y1="58.9" x2="691.6" y2="77.8" stroke="#111111" stroke-width="1.5" stroke-linecap="butt"/>
<line x1="723.5" y1="84" x2="723.5" y2="92.8" stroke="#111111" stroke-width="1.5" stroke-linecap="butt"/>
<line x1="259.6" y1="201.6" x2="300" y2="191.2" stroke="#111111" stroke-width="1.7" stroke-linecap="butt"/>
<line x1="259.6" y1="201.6" x2="378.9" y2="271" stroke="#111111" stroke-width="1.7" stroke-linecap="butt"/>
<ellipse cx="378.6" cy="270.6" rx="0.8" ry="0.8" fill="none" stroke="#111111" stroke-width="1.5"/>
<line x1="412" y1="162.3" x2="418" y2="160.6" stroke="#111111" stroke-width="1.7" stroke-linecap="butt"/>
<line x1="451.4" y1="150.3" x2="460.6" y2="148" stroke="#111111" stroke-width="1.7" stroke-linecap="butt"/>
<line x1="492.8" y1="139" x2="525.4" y2="130.2" stroke="#111111" stroke-width="1.7" stroke-linecap="butt"/>
<line x1="531.7" y1="128.2" x2="560.5" y2="120.2" stroke="#111111" stroke-width="1.7" stroke-linecap="butt"/>
<line x1="664.2" y1="93.8" x2="667.4" y2="93" stroke="#111111" stroke-width="1.7" stroke-linecap="butt"/>
<line x1="680" y1="89.6" x2="687.5" y2="87.8" stroke="#111111" stroke-width="1.7" stroke-linecap="butt"/>
<line x1="697.5" y1="84.8" x2="704" y2="83.2" stroke="#111111" stroke-width="1.7" stroke-linecap="butt"/>
<g transform="translate(310.4 188.6) rotate(-15)">
<ellipse cx="9.6" cy="0" rx="10.2" ry="19.6" fill="#f8f8f8" stroke="#111111" stroke-width="1.6"/>
<rect x="0" y="-19.6" width="9.6" height="39.2" fill="#f8f8f8"/>
<line x1="0" y1="-19.6" x2="9.6" y2="-19.6" stroke="#111111" stroke-width="1.6"/>
<line x1="0" y1="19.6" x2="9.6" y2="19.6" stroke="#111111" stroke-width="1.6"/>
<ellipse cx="0" cy="0" rx="10.2" ry="19.6" fill="#f8f8f8" stroke="#111111" stroke-width="1.6"/>
</g>
<g transform="translate(310.4 188.6) rotate(-15)">
<ellipse cx="0.5" cy="0" rx="8.8" ry="16.9" fill="none" stroke="#111111" stroke-width="1.5"/>
<ellipse cx="0.9" cy="0" rx="7.1" ry="13.7" fill="#e4e4e4" stroke="#111111" stroke-width="2.4"/>
<ellipse cx="1.3" cy="0" rx="5.1" ry="9.8" fill="#f8f8f8" stroke="#111111" stroke-width="2.1"/>
<ellipse cx="1.7" cy="0" rx="3.4" ry="6.5" fill="none" stroke="#111111" stroke-width="1.5"/>
</g>
<line x1="332.5" y1="183.2" x2="335" y2="182.6" stroke="#111111" stroke-width="1.5" stroke-linecap="butt"/>
<g transform="translate(380 170.3) rotate(-15)">
<ellipse cx="30" cy="0" rx="3.4" ry="9.8" fill="#f8f8f8" stroke="#111111" stroke-width="1.6"/>
<rect x="0" y="-9.8" width="30" height="19.6" fill="#f8f8f8"/>
<line x1="0" y1="-9.8" x2="30" y2="-9.8" stroke="#111111" stroke-width="1.6"/>
<line x1="0" y1="9.8" x2="30" y2="9.8" stroke="#111111" stroke-width="1.6"/>
<ellipse cx="0" cy="0" rx="3.4" ry="9.8" fill="#f8f8f8" stroke="#111111" stroke-width="1.6"/>
</g>
<g transform="translate(380 170.3) rotate(-15)">
<line x1="11" y1="-6.4" x2="31" y2="-6.4" stroke="#111111" stroke-width="2.2"/>
<line x1="11" y1="-2.2" x2="31" y2="-2.2" stroke="#111111" stroke-width="2.2"/>
<line x1="11" y1="2.2" x2="31" y2="2.2" stroke="#111111" stroke-width="2.2"/>
<line x1="11" y1="6.4" x2="31" y2="6.4" stroke="#111111" stroke-width="2.2"/>
</g>
<g transform="translate(360.6 176.4) rotate(-15)">
<polygon points="23.7,2.1 23.2,6.9 22,6 21.6,8.1 22.5,10.5 21.2,14.1 20.3,11.5 19.6,12.8 19.9,16.2 18.2,17.5 17.9,14 17.1,14 16.8,17.5 15.1,16.2 15.4,12.8 14.7,11.5 13.8,14.1 12.5,10.5 13.4,8.1 13,6 11.8,6.9 11.3,2.1 12.6,1.2 12.6,-1.2 11.3,-2.1 11.8,-6.9 13,-6 13.4,-8.1 12.5,-10.5 13.8,-14.1 14.7,-11.5 15.4,-12.8 15.1,-16.2 16.8,-17.5 17.1,-14 17.9,-14 18.2,-17.5 19.9,-16.2 19.6,-12.8 20.3,-11.5 21.2,-14.1 22.5,-10.5 21.6,-8.1 22,-6 23.2,-6.9 23.7,-2.1 22.4,-1.2 22.4,1.2" fill="#1e1e1e" stroke="#111111" stroke-width="1.6" stroke-linejoin="round"/>
<rect x="0" y="-14.1" width="17.5" height="28.2" fill="#1e1e1e"/>
<polygon points="6.2,2.1 5.7,6.9 23.2,6.9 23.7,2.1" fill="#f8f8f8" stroke="#111111" stroke-width="1.3" stroke-linejoin="round"/>
<polygon points="5,10.5 3.7,14.1 21.2,14.1 22.5,10.5" fill="#f8f8f8" stroke="#111111" stroke-width="1.3" stroke-linejoin="round"/>
<polygon points="2.4,16.2 0.7,17.5 18.2,17.5 19.9,16.2" fill="#f8f8f8" stroke="#111111" stroke-width="1.3" stroke-linejoin="round"/>
<polygon points="-0.7,17.5 -2.4,16.2 15.1,16.2 16.8,17.5" fill="#f8f8f8" stroke="#111111" stroke-width="1.3" stroke-linejoin="round"/>
<polygon points="-2.4,-16.2 -0.7,-17.5 16.8,-17.5 15.1,-16.2" fill="#f8f8f8" stroke="#111111" stroke-width="1.3" stroke-linejoin="round"/>
<polygon points="0.7,-17.5 2.4,-16.2 19.9,-16.2 18.2,-17.5" fill="#f8f8f8" stroke="#111111" stroke-width="1.3" stroke-linejoin="round"/>
<polygon points="3.7,-14.1 5,-10.5 22.5,-10.5 21.2,-14.1" fill="#f8f8f8" stroke="#111111" stroke-width="1.3" stroke-linejoin="round"/>
<polygon points="5.7,-6.9 6.2,-2.1 23.7,-2.1 23.2,-6.9" fill="#f8f8f8" stroke="#111111" stroke-width="1.3" stroke-linejoin="round"/>
<polygon points="6.2,2.1 5.7,6.9 4.5,6 4.1,8.1 5,10.5 3.7,14.1 2.8,11.5 2.1,12.8 2.4,16.2 0.7,17.5 0.4,14 -0.4,14 -0.7,17.5 -2.4,16.2 -2.1,12.8 -2.8,11.5 -3.7,14.1 -5,10.5 -4.1,8.1 -4.5,6 -5.7,6.9 -6.2,2.1 -4.9,1.2 -4.9,-1.2 -6.2,-2.1 -5.7,-6.9 -4.5,-6 -4.1,-8.1 -5,-10.5 -3.7,-14.1 -2.8,-11.5 -2.1,-12.8 -2.4,-16.2 -0.7,-17.5 -0.4,-14 0.4,-14 0.7,-17.5 2.4,-16.2 2.1,-12.8 2.8,-11.5 3.7,-14.1 5,-10.5 4.1,-8.1 4.5,-6 5.7,-6.9 6.2,-2.1 4.9,-1.2 4.9,1.2" fill="#f8f8f8" stroke="#111111" stroke-width="1.6" stroke-linejoin="round"/>
</g>
<g transform="translate(360.6 176.4) rotate(-15)">
<ellipse cx="0" cy="0" rx="4.5" ry="12.7" fill="none" stroke="#111111" stroke-width="1.5"/>
</g>
<g transform="translate(348.2 178.2) rotate(-15)">
<rect x="0" y="-9.4" width="9" height="18.8" fill="#f8f8f8"/>
<line x1="0" y1="-9.4" x2="9" y2="-9.4" stroke="#111111" stroke-width="1.7"/>
<line x1="0" y1="9.4" x2="9" y2="9.4" stroke="#111111" stroke-width="1.7"/>
<ellipse cx="0" cy="0" rx="5" ry="9.4" fill="#f8f8f8" stroke="#111111" stroke-width="1.7"/>
</g>
<g transform="translate(348.2 178.2) rotate(-15)">
<circle cx="0.4" cy="0.6" r="1.3" fill="#111111"/>
</g>
<g transform="translate(428.4 158.6) rotate(-15)">
<ellipse cx="11.8" cy="0" rx="10.4" ry="22.4" fill="#f8f8f8" stroke="#111111" stroke-width="1.6"/>
<rect x="0" y="-22.4" width="11.8" height="44.8" fill="#f8f8f8"/>
<line x1="0" y1="-22.4" x2="11.8" y2="-22.4" stroke="#111111" stroke-width="1.6"/>
<line x1="0" y1="22.4" x2="11.8" y2="22.4" stroke="#111111" stroke-width="1.6"/>
<ellipse cx="0" cy="0" rx="10.4" ry="22.4" fill="#f8f8f8" stroke="#111111" stroke-width="1.6"/>
</g>
<g transform="translate(428.4 158.6) rotate(-15)">
<ellipse cx="0.5" cy="0" rx="8.9" ry="19.3" fill="none" stroke="#111111" stroke-width="1.5"/>
<ellipse cx="0.9" cy="0" rx="7.3" ry="15.7" fill="#e4e4e4" stroke="#111111" stroke-width="2.4"/>
<ellipse cx="1.3" cy="0" rx="5.2" ry="11.2" fill="#f8f8f8" stroke="#111111" stroke-width="2.1"/>
<ellipse cx="1.7" cy="0" rx="3.4" ry="7.4" fill="none" stroke="#111111" stroke-width="1.5"/>
</g>
<ellipse cx="473.6" cy="145.4" rx="13" ry="23.6" fill="none" stroke="#111111" stroke-width="2.3" transform="rotate(-15 473.6 145.4)"/>
<ellipse cx="473.6" cy="145.4" rx="10.2" ry="20.8" fill="none" stroke="#111111" stroke-width="2.1" transform="rotate(-15 473.6 145.4)"/>
<line x1="460.6" y1="148" x2="487" y2="141" stroke="#111111" stroke-width="1.7" stroke-linecap="butt"/>
<path d="M500.4,100.4 Q501,98.6 503,99.6 L528.6,115.6 Q530.8,117.4 530.8,120 L530.8,162 Q530.6,165.4 528,164 L500.6,144.6 Q498.8,143.2 498.8,140.6 Z" fill="none" stroke="#111111" stroke-width="2.2" stroke-linejoin="round" stroke-linecap="round" />
<ellipse cx="514.6" cy="132.6" rx="12.2" ry="24.6" fill="none" stroke="#111111" stroke-width="1.8" transform="rotate(-12 514.6 132.6)"/>
<ellipse cx="503.2" cy="104" rx="1.5" ry="1.8" fill="none" stroke="#111111" stroke-width="1.5"/>
<ellipse cx="526.6" cy="119.6" rx="1.5" ry="1.8" fill="none" stroke="#111111" stroke-width="1.5"/>
<ellipse cx="526.8" cy="158.4" rx="1.5" ry="1.8" fill="none" stroke="#111111" stroke-width="1.5"/>
<ellipse cx="503" cy="142.4" rx="1.5" ry="1.8" fill="none" stroke="#111111" stroke-width="1.5"/>
<line x1="497" y1="137.8" x2="525.4" y2="130.2" stroke="#111111" stroke-width="1.7" stroke-linecap="butt"/>
<path d="M543,93.6 Q543.2,90.4 546,91.6 L574,104.4 Q578.2,106.6 578.4,111 L578.8,146 Q578.6,149.4 575,148 L569,144.6 L545.4,130.6 Q543,129 543,126 Z" fill="none" stroke="#111111" stroke-width="2" stroke-linejoin="round" stroke-linecap="round" />
<path d="M546,96.4 L572.6,108.6 Q575.4,110.2 575.4,113 L575.6,142" fill="none" stroke="#111111" stroke-width="1.5" stroke-linejoin="round" stroke-linecap="round" />
<path d="M543,126 L546,124.6 L571,141.6 L575,148" fill="none" stroke="#111111" stroke-width="1.5" stroke-linejoin="round" stroke-linecap="round" />
<ellipse cx="557.6" cy="121" rx="12" ry="22.4" fill="none" stroke="#111111" stroke-width="2.3" transform="rotate(-13 557.6 121)"/>
<ellipse cx="559.4" cy="121" rx="9.8" ry="19.4" fill="none" stroke="#111111" stroke-width="1.7" transform="rotate(-13 559.4 121)"/>
<ellipse cx="561" cy="121" rx="7.6" ry="16.6" fill="none" stroke="#111111" stroke-width="1.5" transform="rotate(-13 561 121)"/>
<path d="M546.6,112 Q545,126 551.6,139" fill="none" stroke="#111111" stroke-width="3.2" stroke-linejoin="round" stroke-linecap="round" />
<path d="M551,106 Q548.6,122 555,137" fill="none" stroke="#111111" stroke-width="1.5" stroke-linejoin="round" stroke-linecap="round" />
<ellipse cx="547.4" cy="97.6" rx="1.3" ry="1.6" fill="none" stroke="#111111" stroke-width="1.5"/>
<ellipse cx="572.6" cy="110.6" rx="1.3" ry="1.6" fill="none" stroke="#111111" stroke-width="1.5"/>
<ellipse cx="573" cy="143.6" rx="1.3" ry="1.6" fill="none" stroke="#111111" stroke-width="1.5"/>
<line x1="553" y1="121.8" x2="560.6" y2="120.2" stroke="#111111" stroke-width="1.5" stroke-linecap="butt"/>
<path d="M580.4,144.3 L591.6,141.6 L592.7,151.2 L607.4,146.2" fill="none" stroke="#111111" stroke-width="1.5" stroke-linejoin="round" stroke-linecap="round" />
<g transform="translate(607.4 146.2) rotate(-16.4)">
<rect x="0" y="-2.2" width="11.1" height="4.4" fill="#f8f8f8" stroke="#111111" stroke-width="1.1"/>
<rect x="0" y="-2.5" width="10" height="5" rx="1" fill="#2a2a2a"/>
<line x1="1.2" y1="-1.3" x2="1.8" y2="1.3" stroke="#606060" stroke-width="0.55"/>
<line x1="3.4" y1="-1.3" x2="4" y2="1.3" stroke="#606060" stroke-width="0.55"/>
<line x1="5.6" y1="-1.3" x2="6.2" y2="1.3" stroke="#606060" stroke-width="0.55"/>
<line x1="7.8" y1="-1.3" x2="8.4" y2="1.3" stroke="#606060" stroke-width="0.55"/>
<ellipse cx="16.9" cy="0" rx="5.8" ry="6" fill="#f8f8f8" stroke="#111111" stroke-width="1.7"/>
<path d="M16.3,-5.5 Q13.7,0 16.3,5.5" fill="none" stroke="#111111" stroke-width="1.2"/>
<ellipse cx="18.3" cy="0" rx="2.8" ry="3.3" fill="none" stroke="#111111" stroke-width="1.1"/>
</g>
<g transform="translate(596.6 112.4) rotate(-18)">
<ellipse cx="2.6" cy="0" rx="10.6" ry="18.2" fill="#f8f8f8" stroke="#111111" stroke-width="2"/>
<rect x="0" y="-18.2" width="2.6" height="36.4" fill="#f8f8f8"/>
<line x1="0" y1="-18.2" x2="2.6" y2="-18.2" stroke="#111111" stroke-width="2"/>
<line x1="0" y1="18.2" x2="2.6" y2="18.2" stroke="#111111" stroke-width="2"/>
<ellipse cx="0" cy="0" rx="10.6" ry="18.2" fill="#f8f8f8" stroke="#111111" stroke-width="2"/>
</g>
<g transform="translate(596.6 112.4) rotate(-18)">
<ellipse cx="0.5" cy="0" rx="8.3" ry="14.2" fill="none" stroke="#111111" stroke-width="2.2"/>
<ellipse cx="1" cy="0" rx="5.9" ry="10.2" fill="none" stroke="#111111" stroke-width="1.5"/>
</g>
<path d="M597,106 L598.8,118 M593,113.6 L602.6,111" fill="none" stroke="#111111" stroke-width="1.1" stroke-linejoin="round" stroke-linecap="round" />
<g transform="translate(646.6 99.4) rotate(-15)">
<ellipse cx="3.8" cy="0" rx="13" ry="25.2" fill="#f8f8f8" stroke="#111111" stroke-width="2"/>
<rect x="0" y="-25.2" width="3.8" height="50.4" fill="#f8f8f8"/>
<line x1="0" y1="-25.2" x2="3.8" y2="-25.2" stroke="#111111" stroke-width="2"/>
<line x1="0" y1="25.2" x2="3.8" y2="25.2" stroke="#111111" stroke-width="2"/>
<ellipse cx="0" cy="0" rx="13" ry="25.2" fill="#f8f8f8" stroke="#111111" stroke-width="2"/>
</g>
<g transform="translate(646.6 99.4) rotate(-15)">
<ellipse cx="0" cy="0" rx="10.9" ry="21.2" fill="none" stroke="#111111" stroke-width="1.5"/>
</g>
<g transform="translate(646.6 99.4) rotate(-15)">
<ellipse cx="3.9" cy="-22.4" rx="1.5" ry="3.2" fill="#2a2a2a" transform="rotate(-22.5 3.9 -22.4)"/>
<ellipse cx="11" cy="-9.8" rx="1.5" ry="3.2" fill="#2a2a2a" transform="rotate(-7.5 11 -9.8)"/>
<ellipse cx="11" cy="9.8" rx="1.5" ry="3.2" fill="#2a2a2a" transform="rotate(7.5 11 9.8)"/>
<ellipse cx="3.9" cy="22.4" rx="1.5" ry="3.2" fill="#2a2a2a" transform="rotate(22.5 3.9 22.4)"/>
<ellipse cx="-6.1" cy="17.8" rx="1.5" ry="3.2" fill="#2a2a2a" transform="rotate(39 -6.1 17.8)"/>
<ellipse cx="-6.1" cy="-17.8" rx="1.5" ry="3.2" fill="#2a2a2a" transform="rotate(-39 -6.1 -17.8)"/>
<path d="M0,-15 A7.6,15 0 0 1 0,15" fill="none" stroke="#111111" stroke-width="2.2"/>
<path d="M2.4,-17 A8.6,17 0 0 1 2.4,17" fill="none" stroke="#111111" stroke-width="1.1"/>
</g>
<g transform="translate(621 104.6) rotate(-15)">
<rect x="0" y="-14" width="22" height="28" fill="#f8f8f8"/>
<line x1="0" y1="-14" x2="22" y2="-14" stroke="#111111" stroke-width="2"/>
<line x1="0" y1="14" x2="22" y2="14" stroke="#111111" stroke-width="2"/>
<ellipse cx="0" cy="0" rx="7.4" ry="14" fill="#f8f8f8" stroke="#111111" stroke-width="2"/>
</g>
<g transform="translate(621 104.6) rotate(-15)">
<ellipse cx="0.4" cy="0" rx="5.6" ry="10.6" fill="#cfcfcf" stroke="#111111" stroke-width="1.7"/>
<ellipse cx="1" cy="0" rx="3.4" ry="6.4" fill="#f8f8f8" stroke="#111111" stroke-width="1.5"/>
</g>
<g transform="translate(621 104.6) rotate(-15)">
<path d="M0.6,-6 L1.4,6 M-1.6,-5 L-1,5.4" stroke="#111111" stroke-width="1.2" fill="none"/>
</g>
<g transform="translate(621 104.6) rotate(-15)">
<path d="M18.3,-14 A7.4,14 0 0 1 18.3,14" fill="none" stroke="#111111" stroke-width="1.5"/>
</g>
<g transform="translate(671.8 92) rotate(-15)">
<ellipse cx="5" cy="0" rx="4.4" ry="9.6" fill="#2c2c2c" stroke="#111111" stroke-width="1.7"/>
<rect x="0" y="-9.6" width="5" height="19.2" fill="#2c2c2c"/>
<line x1="0" y1="-9.6" x2="5" y2="-9.6" stroke="#111111" stroke-width="1.7"/>
<line x1="0" y1="9.6" x2="5" y2="9.6" stroke="#111111" stroke-width="1.7"/>
<ellipse cx="0" cy="0" rx="4.4" ry="9.6" fill="#2c2c2c" stroke="#111111" stroke-width="1.7"/>
</g>
<g transform="translate(671.8 92) rotate(-15)">
<ellipse cx="0" cy="0" rx="4.4" ry="9.6" fill="#f8f8f8" stroke="#111111" stroke-width="1.7"/>
<ellipse cx="0" cy="0" rx="1" ry="2.1" fill="#222" stroke="#111111" stroke-width="1.7"/>
</g>
<ellipse cx="692.6" cy="86.2" rx="5.4" ry="9.8" fill="none" stroke="#111111" stroke-width="2.1" transform="rotate(-15 692.6 86.2)"/>
<ellipse cx="692.8" cy="86.2" rx="3.6" ry="7.8" fill="none" stroke="#111111" stroke-width="1.1" transform="rotate(-15 692.8 86.2)"/>
<g transform="translate(702.6 83.8) rotate(-15.6)">
<rect x="0" y="-2.3" width="14.4" height="4.6" fill="#f8f8f8" stroke="#111111" stroke-width="1.1"/>
<rect x="0" y="-2.6" width="13" height="5.2" rx="1" fill="#2a2a2a"/>
<line x1="1.2" y1="-1.4" x2="1.8" y2="1.4" stroke="#606060" stroke-width="0.55"/>
<line x1="3.4" y1="-1.4" x2="4" y2="1.4" stroke="#606060" stroke-width="0.55"/>
<line x1="5.6" y1="-1.4" x2="6.2" y2="1.4" stroke="#606060" stroke-width="0.55"/>
<line x1="7.8" y1="-1.4" x2="8.4" y2="1.4" stroke="#606060" stroke-width="0.55"/>
<line x1="10" y1="-1.4" x2="10.6" y2="1.4" stroke="#606060" stroke-width="0.55"/>
<ellipse cx="20.6" cy="0" rx="6.2" ry="6.8" fill="#f8f8f8" stroke="#111111" stroke-width="1.7"/>
<path d="M20,-6.3 Q17.4,0 20,6.3" fill="none" stroke="#111111" stroke-width="1.2"/>
<ellipse cx="22" cy="0" rx="3" ry="3.7" fill="none" stroke="#111111" stroke-width="1.1"/>
</g>
<g transform="translate(751.8 71.2) rotate(-17)">
<ellipse cx="12.4" cy="0" rx="20.6" ry="39.6" fill="#f8f8f8" stroke="#111111" stroke-width="2.4"/>
<rect x="0" y="-39.6" width="12.4" height="79.2" fill="#f8f8f8"/>
<line x1="0" y1="-39.6" x2="12.4" y2="-39.6" stroke="#111111" stroke-width="2.4"/>
<line x1="0" y1="39.6" x2="12.4" y2="39.6" stroke="#111111" stroke-width="2.4"/>
<ellipse cx="0" cy="0" rx="20.6" ry="39.6" fill="#f8f8f8" stroke="#111111" stroke-width="2.4"/>
</g>
<g transform="translate(751.8 71.2) rotate(-17)">
<ellipse cx="0.3" cy="0" rx="18.7" ry="36" fill="none" stroke="#111111" stroke-width="1.5"/>
<ellipse cx="0.8" cy="0" rx="11.7" ry="22.6" fill="none" stroke="#111111" stroke-width="2.7"/>
<ellipse cx="1.4" cy="0" rx="7.4" ry="14.3" fill="#d4d4d4" stroke="#111111" stroke-width="3.2"/>
<ellipse cx="2" cy="0" rx="4.1" ry="7.9" fill="#f8f8f8" stroke="#111111" stroke-width="1.7"/>
</g>
<g transform="translate(751.8 71.2) rotate(-17)">
<path d="M18,4.7 Q16.1,16 12.4,25.3 L9.5,18.8 Q12.3,11.9 13.8,3.5 Z" fill="#f8f8f8" stroke="#111111" stroke-width="2.2" stroke-linejoin="round"/>
<path d="M7.1,31.6 Q1.1,34 -5,32.4 L-3.4,24.1 Q1.2,25.3 5.6,23.5 Z" fill="#f8f8f8" stroke="#111111" stroke-width="2.2" stroke-linejoin="round"/>
<path d="M-10.4,26.8 Q-14.5,18 -16.8,7.1 L-12.2,5.3 Q-10.5,13.4 -7.4,20 Z" fill="#f8f8f8" stroke="#111111" stroke-width="2.2" stroke-linejoin="round"/>
<path d="M-17,-4.7 Q-15.1,-16 -11.4,-25.3 L-8.1,-18.8 Q-10.9,-11.9 -12.4,-3.5 Z" fill="#f8f8f8" stroke="#111111" stroke-width="2.2" stroke-linejoin="round"/>
<path d="M-6.1,-31.6 Q-0.1,-34 6,-32.4 L4.8,-24.1 Q0.2,-25.3 -4.2,-23.5 Z" fill="#f8f8f8" stroke="#111111" stroke-width="2.2" stroke-linejoin="round"/>
<path d="M11.4,-26.8 Q15.5,-18 17.8,-7.1 L13.6,-5.3 Q11.9,-13.4 8.8,-20 Z" fill="#f8f8f8" stroke="#111111" stroke-width="2.2" stroke-linejoin="round"/>
<ellipse cx="8.8" cy="11.9" rx="1" ry="1.6" fill="#222"/>
<ellipse cx="-5.5" cy="14.2" rx="1" ry="1.6" fill="#222"/>
<ellipse cx="-6.8" cy="-11.9" rx="1" ry="1.6" fill="#222"/>
<ellipse cx="7.5" cy="-14.2" rx="1" ry="1.6" fill="#222"/>
</g>
<path d="M438.7,17.5 Q438.7,14.4 441.6,15.6 L473.6,31.4 Q476.6,33 476.6,36 L476.7,70.4 Q476.7,74 473.6,72.4 L441.6,57.4 Q438.7,56 438.7,53.4 Z" fill="none" stroke="#111111" stroke-width="2.7" stroke-linejoin="round" stroke-linecap="round" />
<path d="M441.8,21.4 L441.9,53 L474,68.6" fill="none" stroke="#111111" stroke-width="1.5" stroke-linejoin="round" stroke-linecap="round" />
<ellipse cx="458" cy="45.4" rx="13" ry="21.4" fill="none" stroke="#111111" stroke-width="2" transform="rotate(-17 458 45.4)"/>
<ellipse cx="459.2" cy="45.8" rx="10.8" ry="18.8" fill="none" stroke="#111111" stroke-width="1.5" transform="rotate(-17 459.2 45.8)"/>
<ellipse cx="442.6" cy="21.8" rx="1.7" ry="2.1" fill="#333" stroke="#111111" stroke-width="1.5"/>
<ellipse cx="472.8" cy="37.4" rx="1.7" ry="2.1" fill="#333" stroke="#111111" stroke-width="1.5"/>
<ellipse cx="473" cy="67.6" rx="1.7" ry="2.1" fill="#333" stroke="#111111" stroke-width="1.5"/>
<ellipse cx="442.8" cy="52.6" rx="1.7" ry="2.1" fill="#333" stroke="#111111" stroke-width="1.5"/>
<line x1="426.5" y1="236.4" x2="451.6" y2="242.6" stroke="#111111" stroke-width="1.7" stroke-linecap="butt"/>
<ellipse cx="453.6" cy="243.2" rx="1.5" ry="1.5" fill="none" stroke="#111111" stroke-width="1.5"/>
<line x1="425.3" y1="252.2" x2="450.4" y2="257.2" stroke="#111111" stroke-width="1.7" stroke-linecap="butt"/>
<line x1="412.7" y1="286.5" x2="412.7" y2="299.1" stroke="#111111" stroke-width="1.7" stroke-linecap="butt"/>
<line x1="515.6" y1="237.6" x2="515.6" y2="255.2" stroke="#111111" stroke-width="1.7" stroke-linecap="butt"/>
<line x1="566.5" y1="207.6" x2="566.5" y2="221.4" stroke="#111111" stroke-width="1.7" stroke-linecap="butt"/>
<line x1="612.9" y1="222.7" x2="612.9" y2="237.7" stroke="#111111" stroke-width="1.7" stroke-linecap="butt"/>
<line x1="645.5" y1="207.6" x2="645.5" y2="223.9" stroke="#111111" stroke-width="1.7" stroke-linecap="butt"/>
<line x1="676.4" y1="193.8" x2="676.4" y2="225.2" stroke="#111111" stroke-width="1.7" stroke-linecap="butt"/>
<line x1="704.3" y1="180.2" x2="704.3" y2="212" stroke="#111111" stroke-width="1.7" stroke-linecap="butt"/>
<line x1="739.2" y1="171.4" x2="739.2" y2="190.2" stroke="#111111" stroke-width="1.7" stroke-linecap="butt"/>
<line x1="778.8" y1="157.6" x2="778.8" y2="175.2" stroke="#111111" stroke-width="1.7" stroke-linecap="butt"/>
<line x1="781.3" y1="280.2" x2="781.3" y2="289" stroke="#111111" stroke-width="1.7" stroke-linecap="butt"/>
<path d="M452.6,252 L455.8,252.8 L452.6,254.6 L455.8,256 L452.6,257.6 L455.8,259.2 L452.6,260.8 L455.8,262.4 L452.6,264 L455.8,265.6 L452.6,267.2 L455.8,268.8 L452.6,270.4 L455.8,271.6" fill="none" stroke="#111111" stroke-width="2.1" stroke-linejoin="round" stroke-linecap="round" />
<g transform="translate(406.6 307.4) rotate(-14.5)">
<ellipse cx="16.4" cy="0" rx="2.6" ry="4.8" fill="#f8f8f8" stroke="#111111" stroke-width="1.6"/>
<rect x="0" y="-4.8" width="16.4" height="9.6" fill="#f8f8f8"/>
<line x1="0" y1="-4.8" x2="16.4" y2="-4.8" stroke="#111111" stroke-width="1.6"/>
<line x1="0" y1="4.8" x2="16.4" y2="4.8" stroke="#111111" stroke-width="1.6"/>
<ellipse cx="0" cy="0" rx="2.6" ry="4.8" fill="#f8f8f8" stroke="#111111" stroke-width="1.6"/>
</g>
<line x1="423.6" y1="302.6" x2="431.6" y2="300.4" stroke="#111111" stroke-width="1.7" stroke-linecap="butt"/>
<g transform="translate(466.4 292) rotate(-14.5)">
<ellipse cx="27.6" cy="0" rx="3.2" ry="7.6" fill="#f8f8f8" stroke="#111111" stroke-width="1.6"/>
<rect x="0" y="-7.6" width="27.6" height="15.2" fill="#f8f8f8"/>
<line x1="0" y1="-7.6" x2="27.6" y2="-7.6" stroke="#111111" stroke-width="1.6"/>
<line x1="0" y1="7.6" x2="27.6" y2="7.6" stroke="#111111" stroke-width="1.6"/>
<ellipse cx="0" cy="0" rx="3.2" ry="7.6" fill="#f8f8f8" stroke="#111111" stroke-width="1.6"/>
</g>
<g transform="translate(466.4 292) rotate(-14.5)">
<path d="M11.1,-7.6 A3.2,7.6 0 0 1 11.1,7.6" fill="none" stroke="#111111" stroke-width="1.5"/>
</g>
<g transform="translate(466.4 292) rotate(-14.5)">
<path d="M23.1,-7.6 A3.2,7.6 0 0 1 23.1,7.6" fill="none" stroke="#111111" stroke-width="1.5"/>
</g>
<g transform="translate(466.4 292) rotate(-14.5)">
<path d="M25.1,-7.6 A3.2,7.6 0 0 1 25.1,7.6" fill="none" stroke="#111111" stroke-width="1.5"/>
</g>
<g transform="translate(440 297.6) rotate(-14.5)">
<polygon points="26.1,-2.1 26.1,2.1 24.7,2.1 24.4,4.6 25.7,6.3 24.7,10 23.5,8.3 22.6,10.2 23.4,13 21.8,15.2 21,12.3 19.9,12.9 19.9,16.3 18.1,16.3 18.1,12.9 17,12.3 16.2,15.2 14.6,13 15.4,10.2 14.5,8.3 13.3,10 12.3,6.3 13.6,4.6 13.3,2.1 11.9,2.1 11.9,-2.1 13.3,-2.1 13.6,-4.6 12.3,-6.3 13.3,-10 14.5,-8.3 15.4,-10.2 14.6,-13 16.2,-15.2 17,-12.3 18.1,-12.9 18.1,-16.3 19.9,-16.3 19.9,-12.9 21,-12.3 21.8,-15.2 23.4,-13 22.6,-10.2 23.5,-8.3 24.7,-10 25.7,-6.3 24.4,-4.6 24.7,-2.1" fill="#1e1e1e" stroke="#111111" stroke-width="1.5" stroke-linejoin="round"/>
<rect x="0" y="-13.1" width="19" height="26.2" fill="#1e1e1e"/>
<polygon points="7.1,-2.1 7.1,2.1 26.1,2.1 26.1,-2.1" fill="#f8f8f8" stroke="#111111" stroke-width="1.2" stroke-linejoin="round"/>
<polygon points="6.7,6.3 5.7,10 24.7,10 25.7,6.3" fill="#f8f8f8" stroke="#111111" stroke-width="1.2" stroke-linejoin="round"/>
<polygon points="4.4,13 2.8,15.2 21.8,15.2 23.4,13" fill="#f8f8f8" stroke="#111111" stroke-width="1.2" stroke-linejoin="round"/>
<polygon points="0.9,16.3 -0.9,16.3 18.1,16.3 19.9,16.3" fill="#f8f8f8" stroke="#111111" stroke-width="1.2" stroke-linejoin="round"/>
<polygon points="-4.4,-13 -2.8,-15.2 16.2,-15.2 14.6,-13" fill="#f8f8f8" stroke="#111111" stroke-width="1.2" stroke-linejoin="round"/>
<polygon points="-0.9,-16.3 0.9,-16.3 19.9,-16.3 18.1,-16.3" fill="#f8f8f8" stroke="#111111" stroke-width="1.2" stroke-linejoin="round"/>
<polygon points="2.8,-15.2 4.4,-13 23.4,-13 21.8,-15.2" fill="#f8f8f8" stroke="#111111" stroke-width="1.2" stroke-linejoin="round"/>
<polygon points="5.7,-10 6.7,-6.3 25.7,-6.3 24.7,-10" fill="#f8f8f8" stroke="#111111" stroke-width="1.2" stroke-linejoin="round"/>
<polygon points="7.1,-2.1 7.1,2.1 5.7,2.1 5.4,4.6 6.7,6.3 5.7,10 4.5,8.3 3.6,10.2 4.4,13 2.8,15.2 2,12.3 0.9,12.9 0.9,16.3 -0.9,16.3 -0.9,12.9 -2,12.3 -2.8,15.2 -4.4,13 -3.6,10.2 -4.5,8.3 -5.7,10 -6.7,6.3 -5.4,4.6 -5.7,2.1 -7.1,2.1 -7.1,-2.1 -5.7,-2.1 -5.4,-4.6 -6.7,-6.3 -5.7,-10 -4.5,-8.3 -3.6,-10.2 -4.4,-13 -2.8,-15.2 -2,-12.3 -0.9,-12.9 -0.9,-16.3 0.9,-16.3 0.9,-12.9 2,-12.3 2.8,-15.2 4.4,-13 3.6,-10.2 4.5,-8.3 5.7,-10 6.7,-6.3 5.4,-4.6 5.7,-2.1" fill="#f8f8f8" stroke="#111111" stroke-width="1.5" stroke-linejoin="round"/>
</g>
<g transform="translate(440 297.6) rotate(-14.5)">
<ellipse cx="0" cy="0" rx="5.2" ry="11.8" fill="#2a2a2a" stroke="#111111" stroke-width="1.5"/>
<ellipse cx="0" cy="0" rx="2.6" ry="5.9" fill="#999" stroke="#111111" stroke-width="1.5"/>
</g>
<g transform="translate(440 297.6) rotate(-14.5)">
<ellipse cx="3.9" cy="1.6" rx="0.9" ry="1.5" fill="#ddd"/>
<ellipse cx="2.3" cy="7.4" rx="0.9" ry="1.5" fill="#ddd"/>
<ellipse cx="-0.7" cy="8.9" rx="0.9" ry="1.5" fill="#ddd"/>
<ellipse cx="-3.2" cy="5.2" rx="0.9" ry="1.5" fill="#ddd"/>
<ellipse cx="-3.9" cy="-1.6" rx="0.9" ry="1.5" fill="#ddd"/>
<ellipse cx="-2.3" cy="-7.4" rx="0.9" ry="1.5" fill="#ddd"/>
<ellipse cx="0.7" cy="-8.9" rx="0.9" ry="1.5" fill="#ddd"/>
<ellipse cx="3.2" cy="-5.2" rx="0.9" ry="1.5" fill="#ddd"/>
</g>
<line x1="496.4" y1="284.6" x2="503" y2="283" stroke="#111111" stroke-width="1.7" stroke-linecap="butt"/>
<g transform="translate(514.4 280.2) rotate(-14.5)">
<ellipse cx="14.4" cy="0" rx="11.2" ry="22.4" fill="#f8f8f8" stroke="#111111" stroke-width="1.8"/>
<rect x="0" y="-22.4" width="14.4" height="44.8" fill="#f8f8f8"/>
<line x1="0" y1="-22.4" x2="14.4" y2="-22.4" stroke="#111111" stroke-width="1.8"/>
<line x1="0" y1="22.4" x2="14.4" y2="22.4" stroke="#111111" stroke-width="1.8"/>
<ellipse cx="0" cy="0" rx="11.2" ry="22.4" fill="#f8f8f8" stroke="#111111" stroke-width="1.8"/>
</g>
<g transform="translate(514.4 280.2) rotate(-14.5)">
<path d="M5.4,-22.4 A11.2,22.4 0 0 1 5.4,22.4" fill="none" stroke="#111111" stroke-width="1.6"/>
</g>
<g transform="translate(514.4 280.2) rotate(-14.5)">
<path d="M7.8,-22.4 A11.2,22.4 0 0 1 7.8,22.4" fill="none" stroke="#111111" stroke-width="1.6"/>
</g>
<g transform="translate(514.4 280.2) rotate(-14.5)">
<path d="M12,-22.4 A11.2,22.4 0 0 1 12,22.4" fill="none" stroke="#111111" stroke-width="1.6"/>
</g>
<g transform="translate(514.4 280.2) rotate(-14.5)">
<ellipse cx="0" cy="0" rx="9.4" ry="18.8" fill="none" stroke="#111111" stroke-width="1.5"/>
<ellipse cx="0.3" cy="0" rx="7.4" ry="14.8" fill="#2a2a2a" stroke="#111111" stroke-width="1.5"/>
</g>
<g transform="translate(514.4 280.2) rotate(-14.5)">
<line x1="-4" y1="-9" x2="4.6" y2="-8.4" stroke="#e4e4e4" stroke-width="1.5"/>
<line x1="-4" y1="-4.5" x2="4.6" y2="-3.9" stroke="#e4e4e4" stroke-width="1.5"/>
<line x1="-4" y1="0" x2="4.6" y2="0.6" stroke="#e4e4e4" stroke-width="1.5"/>
<line x1="-4" y1="4.5" x2="4.6" y2="5.1" stroke="#e4e4e4" stroke-width="1.5"/>
<line x1="-4" y1="9" x2="4.6" y2="9.6" stroke="#e4e4e4" stroke-width="1.5"/>
</g>
<line x1="541.4" y1="271.6" x2="548" y2="270" stroke="#111111" stroke-width="1.7" stroke-linecap="butt"/>
<g transform="translate(569 265) rotate(-13)">
<polygon points="33.2,-2 33.2,2 31.4,2.2 31.4,4.3 33,5.1 32.7,9 31,8.7 30.7,10.8 32.3,12.1 31.7,15.8 30,14.9 29.6,16.9 31,18.7 30.1,22.2 28.5,20.7 27.9,22.5 29.2,24.8 28,27.9 26.6,26 25.8,27.6 26.9,30.3 25.5,32.9 24.2,30.5 23.4,31.9 24.2,34.9 22.6,37 21.5,34.3 20.6,35.3 21.2,38.6 19.4,40.1 18.6,37.1 17.5,37.8 17.8,41.2 15.9,42.1 15.4,38.8 14.3,39.2 14.4,42.6 12.4,43 12.1,39.5 11.1,39.5 10.8,43 8.8,42.6 8.9,39.2 7.8,38.8 7.3,42.1 5.4,41.2 5.7,37.8 4.6,37.1 3.8,40.1 2,38.6 2.6,35.3 1.7,34.3 0.6,37 -1,34.9 -0.2,31.9 -1,30.5 -2.3,32.9 -3.7,30.3 -2.6,27.6 -3.4,26 -4.8,27.9 -6,24.8 -4.7,22.5 -5.3,20.7 -6.9,22.2 -7.8,18.7 -6.4,16.9 -6.8,14.9 -8.5,15.8 -9.1,12.1 -7.5,10.8 -7.8,8.7 -9.5,9 -9.8,5.1 -8.2,4.3 -8.2,2.2 -10,2 -10,-2 -8.2,-2.2 -8.2,-4.3 -9.8,-5.1 -9.5,-9 -7.8,-8.7 -7.5,-10.8 -9.1,-12.1 -8.5,-15.8 -6.8,-14.9 -6.4,-16.9 -7.8,-18.7 -6.9,-22.2 -5.3,-20.7 -4.7,-22.5 -6,-24.8 -4.8,-27.9 -3.4,-26 -2.6,-27.6 -3.7,-30.3 -2.3,-32.9 -1,-30.5 -0.2,-31.9 -1,-34.9 0.6,-37 1.7,-34.3 2.6,-35.3 2,-38.6 3.8,-40.1 4.6,-37.1 5.7,-37.8 5.4,-41.2 7.3,-42.1 7.8,-38.8 8.9,-39.2 8.8,-42.6 10.8,-43 11.1,-39.5 12.1,-39.5 12.4,-43 14.4,-42.6 14.3,-39.2 15.4,-38.8 15.9,-42.1 17.8,-41.2 17.5,-37.8 18.6,-37.1 19.4,-40.1 21.2,-38.6 20.6,-35.3 21.5,-34.3 22.6,-37 24.2,-34.9 23.4,-31.9 24.2,-30.5 25.5,-32.9 26.9,-30.3 25.8,-27.6 26.6,-26 28,-27.9 29.2,-24.8 27.9,-22.5 28.5,-20.7 30.1,-22.2 31,-18.7 29.6,-16.9 30,-14.9 31.7,-15.8 32.3,-12.1 30.7,-10.8 31,-8.7 32.7,-9 33,-5.1 31.4,-4.3 31.4,-2.2" fill="#1e1e1e" stroke="#111111" stroke-width="1.2" stroke-linejoin="round"/>
<rect x="0" y="-39.6" width="11.6" height="79.1" fill="#1e1e1e"/>
<polygon points="21.6,-2 21.6,2 33.2,2 33.2,-2" fill="#f8f8f8" stroke="#111111" stroke-width="1" stroke-linejoin="round"/>
<polygon points="21.4,5.1 21.1,9 32.7,9 33,5.1" fill="#f8f8f8" stroke="#111111" stroke-width="1" stroke-linejoin="round"/>
<polygon points="20.7,12.1 20.1,15.8 31.7,15.8 32.3,12.1" fill="#f8f8f8" stroke="#111111" stroke-width="1" stroke-linejoin="round"/>
<polygon points="19.4,18.7 18.5,22.2 30.1,22.2 31,18.7" fill="#f8f8f8" stroke="#111111" stroke-width="1" stroke-linejoin="round"/>
<polygon points="17.6,24.8 16.4,27.9 28,27.9 29.2,24.8" fill="#f8f8f8" stroke="#111111" stroke-width="1" stroke-linejoin="round"/>
<polygon points="15.3,30.3 13.9,32.9 25.5,32.9 26.9,30.3" fill="#f8f8f8" stroke="#111111" stroke-width="1" stroke-linejoin="round"/>
<polygon points="12.6,34.9 11,37 22.6,37 24.2,34.9" fill="#f8f8f8" stroke="#111111" stroke-width="1" stroke-linejoin="round"/>
<polygon points="9.6,38.6 7.8,40.1 19.4,40.1 21.2,38.6" fill="#f8f8f8" stroke="#111111" stroke-width="1" stroke-linejoin="round"/>
<polygon points="6.2,41.2 4.3,42.1 15.9,42.1 17.8,41.2" fill="#f8f8f8" stroke="#111111" stroke-width="1" stroke-linejoin="round"/>
<polygon points="2.8,42.6 0.8,43 12.4,43 14.4,42.6" fill="#f8f8f8" stroke="#111111" stroke-width="1" stroke-linejoin="round"/>
<polygon points="-0.8,43 -2.8,42.6 8.8,42.6 10.8,43" fill="#f8f8f8" stroke="#111111" stroke-width="1" stroke-linejoin="round"/>
<polygon points="-2.8,-42.6 -0.8,-43 10.8,-43 8.8,-42.6" fill="#f8f8f8" stroke="#111111" stroke-width="1" stroke-linejoin="round"/>
<polygon points="0.8,-43 2.8,-42.6 14.4,-42.6 12.4,-43" fill="#f8f8f8" stroke="#111111" stroke-width="1" stroke-linejoin="round"/>
<polygon points="4.3,-42.1 6.2,-41.2 17.8,-41.2 15.9,-42.1" fill="#f8f8f8" stroke="#111111" stroke-width="1" stroke-linejoin="round"/>
<polygon points="7.8,-40.1 9.6,-38.6 21.2,-38.6 19.4,-40.1" fill="#f8f8f8" stroke="#111111" stroke-width="1" stroke-linejoin="round"/>
<polygon points="11,-37 12.6,-34.9 24.2,-34.9 22.6,-37" fill="#f8f8f8" stroke="#111111" stroke-width="1" stroke-linejoin="round"/>
<polygon points="13.9,-32.9 15.3,-30.3 26.9,-30.3 25.5,-32.9" fill="#f8f8f8" stroke="#111111" stroke-width="1" stroke-linejoin="round"/>
<polygon points="16.4,-27.9 17.6,-24.8 29.2,-24.8 28,-27.9" fill="#f8f8f8" stroke="#111111" stroke-width="1" stroke-linejoin="round"/>
<polygon points="18.5,-22.2 19.4,-18.7 31,-18.7 30.1,-22.2" fill="#f8f8f8" stroke="#111111" stroke-width="1" stroke-linejoin="round"/>
<polygon points="20.1,-15.8 20.7,-12.1 32.3,-12.1 31.7,-15.8" fill="#f8f8f8" stroke="#111111" stroke-width="1" stroke-linejoin="round"/>
<polygon points="21.1,-9 21.4,-5.1 33,-5.1 32.7,-9" fill="#f8f8f8" stroke="#111111" stroke-width="1" stroke-linejoin="round"/>
<polygon points="21.6,-2 21.6,2 19.8,2.2 19.8,4.3 21.4,5.1 21.1,9 19.4,8.7 19.1,10.8 20.7,12.1 20.1,15.8 18.4,14.9 18,16.9 19.4,18.7 18.5,22.2 16.9,20.7 16.3,22.5 17.6,24.8 16.4,27.9 15,26 14.2,27.6 15.3,30.3 13.9,32.9 12.6,30.5 11.8,31.9 12.6,34.9 11,37 9.9,34.3 9,35.3 9.6,38.6 7.8,40.1 7,37.1 5.9,37.8 6.2,41.2 4.3,42.1 3.8,38.8 2.7,39.2 2.8,42.6 0.8,43 0.5,39.5 -0.5,39.5 -0.8,43 -2.8,42.6 -2.7,39.2 -3.8,38.8 -4.3,42.1 -6.2,41.2 -5.9,37.8 -7,37.1 -7.8,40.1 -9.6,38.6 -9,35.3 -9.9,34.3 -11,37 -12.6,34.9 -11.8,31.9 -12.6,30.5 -13.9,32.9 -15.3,30.3 -14.2,27.6 -15,26 -16.4,27.9 -17.6,24.8 -16.3,22.5 -16.9,20.7 -18.5,22.2 -19.4,18.7 -18,16.9 -18.4,14.9 -20.1,15.8 -20.7,12.1 -19.1,10.8 -19.4,8.7 -21.1,9 -21.4,5.1 -19.8,4.3 -19.8,2.2 -21.6,2 -21.6,-2 -19.8,-2.2 -19.8,-4.3 -21.4,-5.1 -21.1,-9 -19.4,-8.7 -19.1,-10.8 -20.7,-12.1 -20.1,-15.8 -18.4,-14.9 -18,-16.9 -19.4,-18.7 -18.5,-22.2 -16.9,-20.7 -16.3,-22.5 -17.6,-24.8 -16.4,-27.9 -15,-26 -14.2,-27.6 -15.3,-30.3 -13.9,-32.9 -12.6,-30.5 -11.8,-31.9 -12.6,-34.9 -11,-37 -9.9,-34.3 -9,-35.3 -9.6,-38.6 -7.8,-40.1 -7,-37.1 -5.9,-37.8 -6.2,-41.2 -4.3,-42.1 -3.8,-38.8 -2.7,-39.2 -2.8,-42.6 -0.8,-43 -0.5,-39.5 0.5,-39.5 0.8,-43 2.8,-42.6 2.7,-39.2 3.8,-38.8 4.3,-42.1 6.2,-41.2 5.9,-37.8 7,-37.1 7.8,-40.1 9.6,-38.6 9,-35.3 9.9,-34.3 11,-37 12.6,-34.9 11.8,-31.9 12.6,-30.5 13.9,-32.9 15.3,-30.3 14.2,-27.6 15,-26 16.4,-27.9 17.6,-24.8 16.3,-22.5 16.9,-20.7 18.5,-22.2 19.4,-18.7 18,-16.9 18.4,-14.9 20.1,-15.8 20.7,-12.1 19.1,-10.8 19.4,-8.7 21.1,-9 21.4,-5.1 19.8,-4.3 19.8,-2.2" fill="#f8f8f8" stroke="#111111" stroke-width="1.2" stroke-linejoin="round"/>
</g>
<g transform="translate(569 265) rotate(-13)">
<ellipse cx="0.4" cy="0" rx="17.3" ry="34.4" fill="none" stroke="#111111" stroke-width="2.3"/>
<ellipse cx="1.2" cy="0" rx="12.3" ry="24.5" fill="none" stroke="#111111" stroke-width="1.5"/>
<ellipse cx="2.4" cy="0" rx="8.2" ry="16.3" fill="#2a2a2a" stroke="#111111" stroke-width="1.5"/>
</g>
<g transform="translate(569 265) rotate(-13)">
<ellipse cx="7.8" cy="0" rx="1.3" ry="2.2" fill="#e8e8e8"/>
<ellipse cx="6.8" cy="6.4" rx="1.3" ry="2.2" fill="#e8e8e8"/>
<ellipse cx="4.1" cy="10.3" rx="1.3" ry="2.2" fill="#e8e8e8"/>
<ellipse cx="0.7" cy="10.3" rx="1.3" ry="2.2" fill="#e8e8e8"/>
<ellipse cx="-2" cy="6.4" rx="1.3" ry="2.2" fill="#e8e8e8"/>
<ellipse cx="-3" cy="0" rx="1.3" ry="2.2" fill="#e8e8e8"/>
<ellipse cx="-2" cy="-6.4" rx="1.3" ry="2.2" fill="#e8e8e8"/>
<ellipse cx="0.7" cy="-10.3" rx="1.3" ry="2.2" fill="#e8e8e8"/>
<ellipse cx="4.1" cy="-10.3" rx="1.3" ry="2.2" fill="#e8e8e8"/>
<ellipse cx="6.8" cy="-6.4" rx="1.3" ry="2.2" fill="#e8e8e8"/>
</g>
<path d="M554.4,246 Q550.4,264 558.4,286" fill="none" stroke="#111111" stroke-width="1.7" stroke-linejoin="round" stroke-linecap="round" />
<line x1="548" y1="270" x2="560" y2="267" stroke="#111111" stroke-width="1.7" stroke-linecap="butt"/>
<line x1="601" y1="255" x2="607" y2="253.4" stroke="#111111" stroke-width="1.7" stroke-linecap="butt"/>
<g transform="translate(616.8 252) rotate(-14.5)">
<ellipse cx="4.4" cy="0" rx="8" ry="15" fill="#f8f8f8" stroke="#111111" stroke-width="2"/>
<rect x="0" y="-15" width="4.4" height="30" fill="#f8f8f8"/>
<line x1="0" y1="-15" x2="4.4" y2="-15" stroke="#111111" stroke-width="2"/>
<line x1="0" y1="15" x2="4.4" y2="15" stroke="#111111" stroke-width="2"/>
<ellipse cx="0" cy="0" rx="8" ry="15" fill="#f8f8f8" stroke="#111111" stroke-width="2"/>
</g>
<g transform="translate(616.8 252) rotate(-14.5)">
<ellipse cx="0.4" cy="0" rx="5.8" ry="10.8" fill="none" stroke="#111111" stroke-width="2"/>
<ellipse cx="1" cy="0" rx="3.8" ry="7.2" fill="none" stroke="#111111" stroke-width="1.5"/>
</g>
<line x1="608" y1="254" x2="626" y2="249.4" stroke="#111111" stroke-width="1.5" stroke-linecap="butt"/>
<line x1="629.6" y1="247" x2="635.6" y2="245.4" stroke="#111111" stroke-width="1.7" stroke-linecap="butt"/>
<g transform="translate(646 245.2) rotate(-14.5)">
<ellipse cx="9.8" cy="0" rx="10.2" ry="20.6" fill="#f8f8f8" stroke="#111111" stroke-width="1.6"/>
<rect x="0" y="-20.6" width="9.8" height="41.2" fill="#f8f8f8"/>
<line x1="0" y1="-20.6" x2="9.8" y2="-20.6" stroke="#111111" stroke-width="1.6"/>
<line x1="0" y1="20.6" x2="9.8" y2="20.6" stroke="#111111" stroke-width="1.6"/>
<ellipse cx="0" cy="0" rx="10.2" ry="20.6" fill="#f8f8f8" stroke="#111111" stroke-width="1.6"/>
</g>
<g transform="translate(646 245.2) rotate(-14.5)">
<ellipse cx="0.5" cy="0" rx="8.8" ry="17.7" fill="none" stroke="#111111" stroke-width="1.5"/>
<ellipse cx="0.9" cy="0" rx="7.1" ry="14.4" fill="#e4e4e4" stroke="#111111" stroke-width="2.4"/>
<ellipse cx="1.3" cy="0" rx="5.1" ry="10.3" fill="#f8f8f8" stroke="#111111" stroke-width="2.1"/>
<ellipse cx="1.7" cy="0" rx="3.4" ry="6.8" fill="none" stroke="#111111" stroke-width="1.5"/>
</g>
<line x1="666" y1="237.6" x2="674" y2="235.6" stroke="#111111" stroke-width="1.7" stroke-linecap="butt"/>
<ellipse cx="679.7" cy="236" rx="5.4" ry="11.4" fill="none" stroke="#111111" stroke-width="2.1" transform="rotate(-14.5 679.7 236)"/>
<line x1="684.8" y1="232.8" x2="691" y2="231.2" stroke="#111111" stroke-width="1.7" stroke-linecap="butt"/>
<ellipse cx="702.8" cy="230.8" rx="11.8" ry="19.6" fill="none" stroke="#111111" stroke-width="2.2" transform="rotate(-14.5 702.8 230.8)"/>
<ellipse cx="702.8" cy="230.8" rx="9.2" ry="17" fill="none" stroke="#111111" stroke-width="2" transform="rotate(-14.5 702.8 230.8)"/>
<line x1="693" y1="233" x2="716" y2="227" stroke="#111111" stroke-width="1.7" stroke-linecap="butt"/>
<line x1="716" y1="227" x2="796.4" y2="205.3" stroke="#111111" stroke-width="1.7" stroke-linecap="butt"/>
<path d="M729.4,189.6 Q729,186 732.6,187.4 L760.4,202.4 Q763.2,204 763.2,207 L764.3,248.8 Q764.3,252.4 761.2,250.6 L733.6,234.6 Q730.6,233 730.6,230 Z" fill="none" stroke="#111111" stroke-width="2.2" stroke-linejoin="round" stroke-linecap="round" />
<path d="M734,196.6 L737,195.4 L756.4,206.6 Q758.6,208 758.6,210.6 L759.2,238.6 L758,241.6 L754.6,241.6 L752.6,238.6 L749,238.2 L747,236.4 L736.6,230.4 Q735.2,229.4 735.2,227 Z" fill="none" stroke="#111111" stroke-width="1.6" stroke-linejoin="round" stroke-linecap="round" />
<ellipse cx="732.4" cy="190.6" rx="1.6" ry="2" fill="#333" stroke="#111111" stroke-width="1.5"/>
<ellipse cx="760.4" cy="205.8" rx="1.6" ry="2" fill="#333" stroke="#111111" stroke-width="1.5"/>
<ellipse cx="761.4" cy="247" rx="1.6" ry="2" fill="#333" stroke="#111111" stroke-width="1.5"/>
<ellipse cx="733.4" cy="231.6" rx="1.6" ry="2" fill="#333" stroke="#111111" stroke-width="1.5"/>
<path d="M773.1,178.6 Q773.1,175 776.2,176.4 L805.6,190.8 Q808.6,192.4 808.6,195.6 L809,235.6 Q809,239 806,237.6 L777.4,223 Q774.1,221.2 774.1,218.2 Z" fill="none" stroke="#111111" stroke-width="2.2" stroke-linejoin="round" stroke-linecap="round" />
<path d="M776.2,176.4 L779.2,175.4 L808.6,190 Q811.2,191.6 811.2,194.8 L811.4,233.4 L809,236" fill="none" stroke="#111111" stroke-width="1.5" stroke-linejoin="round" stroke-linecap="round" />
<path d="M805.6,196 L805.8,234.6" fill="none" stroke="#111111" stroke-width="1.5" stroke-linejoin="round" stroke-linecap="round" />
<ellipse cx="788.2" cy="206.4" rx="9.6" ry="17.6" fill="none" stroke="#111111" stroke-width="2.1" transform="rotate(-10.5 788.2 206.4)"/>
<ellipse cx="789.6" cy="206.8" rx="7.2" ry="14.6" fill="none" stroke="#111111" stroke-width="1.5" transform="rotate(-10.5 789.6 206.8)"/>
<path d="M780.4,196 Q778.6,208 783.6,219" fill="none" stroke="#111111" stroke-width="2.9" stroke-linejoin="round" stroke-linecap="round" />
<ellipse cx="776" cy="180.2" rx="1.7" ry="2.1" fill="#333" stroke="#111111" stroke-width="1.5"/>
<ellipse cx="805.8" cy="195" rx="1.7" ry="2.1" fill="#333" stroke="#111111" stroke-width="1.5"/>
<ellipse cx="806" cy="233.6" rx="1.7" ry="2.1" fill="#333" stroke="#111111" stroke-width="1.5"/>
<ellipse cx="777" cy="219.6" rx="1.7" ry="2.1" fill="#333" stroke="#111111" stroke-width="1.5"/>
<path d="M779,187.4 l4.6,0.6 l-2,3.6 Z M788.6,222.6 l4,1.6 l-3,2.6 Z M795,224.6 l3.6,1.6 l-2.6,2.6 Z" fill="#333" stroke="#111111" stroke-width="1.5" stroke-linejoin="round" stroke-linecap="round" />
<path d="M809.4,237.4 L816,232.6 L816,246.6 L747.5,267.6 L747.5,283.9 L770,277" fill="none" stroke="#111111" stroke-width="1.6" stroke-linejoin="round" stroke-linecap="round" />
<g transform="translate(771.3 278) rotate(-16.4)">
<rect x="0" y="-2.1" width="9.5" height="4.2" fill="#f8f8f8" stroke="#111111" stroke-width="1.1"/>
<rect x="0" y="-2.4" width="8.6" height="4.8" rx="1" fill="#2a2a2a"/>
<line x1="1.2" y1="-1.2" x2="1.8" y2="1.2" stroke="#606060" stroke-width="0.55"/>
<line x1="3.4" y1="-1.2" x2="4" y2="1.2" stroke="#606060" stroke-width="0.55"/>
<line x1="5.6" y1="-1.2" x2="6.2" y2="1.2" stroke="#606060" stroke-width="0.55"/>
<ellipse cx="15" cy="0" rx="5.5" ry="5.8" fill="#f8f8f8" stroke="#111111" stroke-width="1.7"/>
<path d="M14.4,-5.3 Q11.8,0 14.4,5.3" fill="none" stroke="#111111" stroke-width="1.2"/>
<ellipse cx="16.4" cy="0" rx="2.6" ry="3.2" fill="none" stroke="#111111" stroke-width="1.1"/>
</g>
<g transform="translate(375.6 347.6) rotate(-16)">
<ellipse cx="3.2" cy="0" rx="9.6" ry="17.8" fill="#f8f8f8" stroke="#111111" stroke-width="2"/>
<rect x="0" y="-17.8" width="3.2" height="35.6" fill="#f8f8f8"/>
<line x1="0" y1="-17.8" x2="3.2" y2="-17.8" stroke="#111111" stroke-width="2"/>
<line x1="0" y1="17.8" x2="3.2" y2="17.8" stroke="#111111" stroke-width="2"/>
<ellipse cx="0" cy="0" rx="9.6" ry="17.8" fill="#f8f8f8" stroke="#111111" stroke-width="2"/>
</g>
<g transform="translate(375.6 347.6) rotate(-16)">
<ellipse cx="0.6" cy="0" rx="7.1" ry="13.2" fill="none" stroke="#111111" stroke-width="2.1"/>
<ellipse cx="1" cy="0" rx="5.6" ry="10.3" fill="none" stroke="#111111" stroke-width="1.5"/>
</g>
<line x1="366" y1="350.4" x2="378" y2="347.2" stroke="#111111" stroke-width="1.7" stroke-linecap="butt"/>
<line x1="390.2" y1="342.6" x2="400.2" y2="343.9" stroke="#111111" stroke-width="1.7" stroke-linecap="butt"/>
<line x1="355.1" y1="381.5" x2="466.7" y2="353.9" stroke="#111111" stroke-width="1.7" stroke-linecap="butt" stroke-dasharray="44 2 2 2"/>
<line x1="470.5" y1="356.4" x2="496.8" y2="371.5" stroke="#111111" stroke-width="1.7" stroke-linecap="butt"/>
<ellipse cx="506.6" cy="374" rx="8.6" ry="9.6" fill="none" stroke="#111111" stroke-width="1.7" transform="rotate(20 506.6 374)"/>
<ellipse cx="506.6" cy="374" rx="5.8" ry="6.8" fill="none" stroke="#111111" stroke-width="1.5" transform="rotate(20 506.6 374)"/>
<g transform="translate(517.6 380.8) rotate(29.5)">
<rect x="0" y="-1.9" width="22" height="3.8" fill="#f8f8f8" stroke="#111111" stroke-width="1.4"/>
<rect x="20" y="-4.2" width="5.6" height="8.4" fill="#2a2a2a" stroke="#111111" stroke-width="1"/>
<line x1="22" y1="-3.4" x2="22" y2="3.4" stroke="#999" stroke-width="0.8"/><line x1="24" y1="-3.4" x2="24" y2="3.4" stroke="#999" stroke-width="0.8"/>
<rect x="25.6" y="-3.4" width="13" height="6.8" fill="#2a2a2a"/>
<line x1="28" y1="-2.6" x2="29" y2="2.6" stroke="#999" stroke-width="0.8"/><line x1="31" y1="-2.6" x2="32" y2="2.6" stroke="#999" stroke-width="0.8"/><line x1="34" y1="-2.6" x2="35" y2="2.6" stroke="#999" stroke-width="0.8"/><line x1="37" y1="-2.6" x2="38" y2="2.6" stroke="#999" stroke-width="0.8"/>
<path d="M39,-8.6 L50,-9.6 L56.6,-5.4 L57,6 L51,10 L39,9 Z" fill="#f8f8f8" stroke="#111111" stroke-width="1.8" stroke-linejoin="round"/>
<ellipse cx="39.6" cy="0.2" rx="2.8" ry="8.8" fill="#f8f8f8" stroke="#111111" stroke-width="1.5"/>
<ellipse cx="52.4" cy="0.4" rx="4" ry="6.4" fill="#222"/>
<path d="M50,-2.6 L54.8,3.4 M50,3.4 L54.8,-2.6" stroke="#ddd" stroke-width="1"/>
<path d="M42,-8.8 L50,-2 M43,9.2 L50,3" stroke="#111111" stroke-width="1.1" fill="none"/>
</g>
<line x1="577.8" y1="417.8" x2="594.1" y2="426.5" stroke="#111111" stroke-width="1.7" stroke-linecap="butt"/>
<line x1="630" y1="412.7" x2="630" y2="433" stroke="#111111" stroke-width="1.7" stroke-linecap="butt"/>
<g transform="translate(603 432.2) rotate(27.5) scale(0.93 1)">
<path d="M0,-6.8 L9,-6.8 L17,-7.2 L29,-7.6 L31,-9 L47,-9.4 L49,-7.8 L57,-7.4 L59.6,-3.6 L59.6,4.4 L57,8 L49,8.4 L47,10 L31,9.6 L29,8 L17,7.6 L9,7 L0,7 Q-4.4,7 -4.4,0 Q-4.4,-6.8 0,-6.8 Z" fill="#f8f8f8" stroke="#111111" stroke-width="1.8" stroke-linejoin="round"/>
<rect x="9.6" y="-7" width="8" height="14.2" fill="#2a2a2a"/>
<line x1="12" y1="-6.4" x2="12" y2="6.6" stroke="#999" stroke-width="0.8"/><line x1="14.8" y1="-6.4" x2="14.8" y2="6.6" stroke="#999" stroke-width="0.8"/>
<path d="M31,-9 L31,9.6 M47,-9.4 L47,10 M31,-3.4 L47,-3.2 M31,4 L47,4.4 M49,-7.8 L49,8.4" stroke="#111111" stroke-width="1.3" fill="none"/>
<ellipse cx="55.6" cy="0.4" rx="3.6" ry="6.6" fill="#222"/>
<path d="M53.6,-2.4 L57.6,3.2 M53.6,3.2 L57.6,-2.4" stroke="#ddd" stroke-width="1"/>
</g>
<line x1="656.6" y1="460.2" x2="668.6" y2="468" stroke="#111111" stroke-width="1.7" stroke-linecap="butt"/>
<path d="M682.4,466.8 A7.2,9.6 15 1 0 683.2,478.4" fill="none" stroke="#111111" stroke-width="2.3" stroke-linejoin="round" stroke-linecap="round" />
<path d="M679.6,469.6 A4.4,6.2 15 1 0 680.4,476.2 L683.2,478.4" fill="none" stroke="#111111" stroke-width="1.5" stroke-linejoin="round" stroke-linecap="round" />
<path d="M676.6,473.6 L684,474.6" fill="none" stroke="#111111" stroke-width="1.5" stroke-linejoin="round" stroke-linecap="round" />
<g transform="translate(691.2 482.4) rotate(21)">
<path d="M0,-9.8 L12,-9.2 Q17.4,-8 17.8,0 Q17.4,8.6 12,9.6 L0,9.8 Z" fill="#f8f8f8" stroke="#111111" stroke-width="1.8"/>
<rect x="0" y="-9.8" width="3.4" height="19.6" fill="#222"/>
<ellipse cx="0" cy="0" rx="5.4" ry="9.8" fill="#222"/>
<path d="M-1.6,-7 Q-3.6,0 -1.6,7" stroke="#9a9a9a" stroke-width="0.9" fill="none"/>
<path d="M1.4,-8 Q-0.8,0 1.4,8" stroke="#9a9a9a" stroke-width="0.9" fill="none"/>
<path d="M7,-9.4 Q8.6,0 7,9.6 M9.6,-9.2 Q11.2,0 9.6,9.4" stroke="#111111" stroke-width="1.3" fill="none"/>
</g>
<line x1="394" y1="460.2" x2="404" y2="456.5" stroke="#111111" stroke-width="1.7" stroke-linecap="butt"/>
<path d="M356,401.4 Q356.4,398.6 360,398.8 L366,401 Q368.6,402.6 367.8,405.6 Q367,408.6 363.6,408 L357.6,406 Q355.4,404.6 356,401.4 Z" fill="none" stroke="#111111" stroke-width="1.8" stroke-linejoin="round" stroke-linecap="round" />
<path d="M356.4,406 Q356.4,420 360.2,428.1 Q366,435.6 375.5,438.8 L383.1,442.6" fill="none" stroke="#111111" stroke-width="1.8" stroke-linejoin="round" stroke-linecap="round" />
<path d="M360.6,408.4 Q361,418 363.3,423.5 Q367,431 373.2,434.2 L381.6,437.3" fill="none" stroke="#111111" stroke-width="1.5" stroke-linejoin="round" stroke-linecap="round" />
<path d="M365.6,408.6 Q366,416 367.9,420.5 Q371.6,428 377,430.4 Q380.6,431 382.3,428.9 L385.4,422.8" fill="none" stroke="#111111" stroke-width="1.7" stroke-linejoin="round" stroke-linecap="round" />
<path d="M382.6,416.6 Q383,413.4 387,414 L393.6,416.8 Q396.6,418.6 395.8,421.6 Q394.8,424.8 391,424 L385,422.4 Q382.2,421 382.6,416.6 Z" fill="none" stroke="#111111" stroke-width="1.8" stroke-linejoin="round" stroke-linecap="round" />
<path d="M385.4,423 L383.1,436" fill="none" stroke="#111111" stroke-width="1.6" stroke-linejoin="round" stroke-linecap="round" />
<path d="M393.8,424.3 L389.2,437.3" fill="none" stroke="#111111" stroke-width="1.7" stroke-linejoin="round" stroke-linecap="round" />
<path d="M389.6,424 L386.6,436" fill="none" stroke="#111111" stroke-width="1.5" stroke-linejoin="round" stroke-linecap="round" />
<g transform="translate(386.2 440) rotate(29.4)">
<path d="M3,-4.2 L44,-4.2 L44,4.2 L-3.4,4.2" fill="#f8f8f8" stroke="#111111" stroke-width="1.8"/>
<path d="M10,-4 L10,4 M12.6,-4 L12.6,4 M33,-4 L33,4 M36,-4 L36,4" stroke="#111111" stroke-width="1.3" fill="none"/>
<rect x="44" y="-3.6" width="7" height="7.2" fill="#2a2a2a"/>
<path d="M45.6,-3 L46.2,3 M48,-3 L48.6,3" stroke="#aaa" stroke-width="0.8"/>
<ellipse cx="52.4" cy="0" rx="2.4" ry="3.4" fill="#f8f8f8" stroke="#111111" stroke-width="1.5"/>
<ellipse cx="39.6" cy="0" rx="1.3" ry="1.7" fill="#222"/>
</g>
<line x1="421.5" y1="482.8" x2="437.9" y2="476.5" stroke="#111111" stroke-width="1.7" stroke-linecap="butt"/>
<g transform="translate(443.4 472.8) rotate(25)">
<ellipse cx="3.6" cy="0" rx="5.2" ry="7.8" fill="#f8f8f8" stroke="#111111" stroke-width="2"/>
<rect x="0" y="-7.8" width="3.6" height="15.6" fill="#f8f8f8"/>
<line x1="0" y1="-7.8" x2="3.6" y2="-7.8" stroke="#111111" stroke-width="2"/>
<line x1="0" y1="7.8" x2="3.6" y2="7.8" stroke="#111111" stroke-width="2"/>
<ellipse cx="0" cy="0" rx="5.2" ry="7.8" fill="#f8f8f8" stroke="#111111" stroke-width="2"/>
</g>
<g transform="translate(443.4 472.8) rotate(25)">
<ellipse cx="0.4" cy="0" rx="2.7" ry="4.1" fill="#999" stroke="#111111" stroke-width="1.7"/>
</g>
<line x1="441.6" y1="495.4" x2="455.4" y2="490.3" stroke="#111111" stroke-width="1.7" stroke-linecap="butt"/>
<g transform="translate(461.2 484.4) rotate(22)">
<ellipse cx="2.4" cy="0" rx="6.6" ry="9.4" fill="#f8f8f8" stroke="#111111" stroke-width="2"/>
<rect x="0" y="-9.4" width="2.4" height="18.8" fill="#f8f8f8"/>
<line x1="0" y1="-9.4" x2="2.4" y2="-9.4" stroke="#111111" stroke-width="2"/>
<line x1="0" y1="9.4" x2="2.4" y2="9.4" stroke="#111111" stroke-width="2"/>
<ellipse cx="0" cy="0" rx="6.6" ry="9.4" fill="#f8f8f8" stroke="#111111" stroke-width="2"/>
</g>
<g transform="translate(461.2 484.4) rotate(22)">
<ellipse cx="0.4" cy="0" rx="2.5" ry="3.6" fill="none" stroke="#111111" stroke-width="1.7"/>
</g>
<line x1="461" y1="484" x2="470" y2="487.6" stroke="#111111" stroke-width="1.5" stroke-linecap="butt"/>
<line x1="481.6" y1="458.8" x2="498" y2="458.8" stroke="#111111" stroke-width="1.7" stroke-linecap="butt"/>
<rect x="472.6" y="449.4" width="8.8" height="4.6" rx="1" fill="#f8f8f8" stroke="#111111" stroke-width="1.4"/>
<rect x="475.2" y="454" width="3.8" height="18.6" fill="#f8f8f8" stroke="#111111" stroke-width="1.2"/>
<rect x="475.2" y="464" width="3.8" height="8.6" fill="#2a2a2a"/>
<line x1="477.2" y1="472.6" x2="477.2" y2="487.4" stroke="#111111" stroke-width="1.5" stroke-linecap="butt"/>
<line x1="554.5" y1="482" x2="564.5" y2="482" stroke="#111111" stroke-width="1.7" stroke-linecap="butt"/>
<path d="M480,488.4 Q490,484 500,482.6 Q510,483 522,486.2 L549,479 Q552.6,478.6 553,481.6 L553,484.6 Q552.6,486.6 549,487.4 L540,490 L520,495 L492.6,500" fill="none" stroke="#111111" stroke-width="1.7" stroke-linejoin="round" stroke-linecap="round" />
<path d="M500,486 L515,489.4 M526,488.6 L538,485.6" fill="none" stroke="#111111" stroke-width="1.5" stroke-linejoin="round" stroke-linecap="round" />
<path d="M546,479.8 L546.6,487.8" fill="none" stroke="#111111" stroke-width="1.5" stroke-linejoin="round" stroke-linecap="round" />
<path d="M506,487.6 l0.6,4 M522,490 l0.4,3.6" fill="none" stroke="#111111" stroke-width="1.1" stroke-linejoin="round" stroke-linecap="round" />
<path d="M472.6,494 Q472.4,489 477,488 L484,488.4 Q489.6,490 490.4,495 L490.6,499.6 Q489,504.6 483,504.8 L476.6,504.6 Q472.6,503 472.6,499 Z" fill="none" stroke="#111111" stroke-width="1.8" stroke-linejoin="round" stroke-linecap="round" />
<ellipse cx="477.4" cy="491.6" rx="4.4" ry="2.6" fill="none" stroke="#111111" stroke-width="1.5"/>
<path d="M472.6,499 Q478,502 482.6,499.6 L482.6,490" fill="none" stroke="#111111" stroke-width="1.5" stroke-linejoin="round" stroke-linecap="round" />
<rect x="484" y="490.4" width="5.6" height="11" rx="2" fill="#2a2a2a"/>
<line x1="477.4" y1="505" x2="477.4" y2="512.4" stroke="#111111" stroke-width="1.5" stroke-linecap="butt"/>
<ellipse cx="477.6" cy="515.8" rx="3.8" ry="1.7" fill="#555" stroke="#111111" stroke-width="1.7"/>
<line x1="477.6" y1="518" x2="477.6" y2="523" stroke="#111111" stroke-width="1.5" stroke-linecap="butt" stroke-dasharray="2 1.5"/>
<rect x="473.4" y="523.6" width="9" height="6.6" rx="1.4" fill="#222"/>
<path d="M474.6,526 L481.4,526 M474.6,528 L481.4,528" stroke="#999" stroke-width="0.7"/>
<g opacity="0.995">
<text transform="translate(61.62 76.70) scale(0.980 1)" font-size="24.6" fill="#111111" stroke="#111111" stroke-width="0.4">5</text>
<text transform="translate(75.97 76.70) scale(0.980 1)" font-size="24.6" fill="#111111" stroke="#111111" stroke-width="0.4">2</text>
<text transform="translate(145.12 57.90) scale(0.980 1)" font-size="24.6" fill="#111111" stroke="#111111" stroke-width="0.4">5</text>
<text transform="translate(159.47 57.90) scale(0.980 1)" font-size="24.6" fill="#111111" stroke="#111111" stroke-width="0.4">3</text>
<text transform="translate(179.52 51.70) scale(0.980 1)" font-size="24.6" fill="#111111" stroke="#111111" stroke-width="0.4">5</text>
<text transform="translate(193.87 51.70) scale(0.980 1)" font-size="24.6" fill="#111111" stroke="#111111" stroke-width="0.4">5</text>
<text transform="translate(65.92 113.70) scale(0.980 1)" font-size="24.6" fill="#111111" stroke="#111111" stroke-width="0.4">5</text>
<path d="M89.26,113.70 L89.26,96.09 L87.88,96.09 C87.26,97.46 85.09,99.68 82.89,100.66 L82.89,102.75 C84.60,102.02 86.29,100.91 87.14,99.92 L87.14,113.70 Z" fill="#111111" stroke="#111111" stroke-width="0.4"/>
<text transform="translate(84.92 136.90) scale(0.980 1)" font-size="24.6" fill="#111111" stroke="#111111" stroke-width="0.4">5</text>
<text transform="translate(99.27 136.90) scale(0.980 1)" font-size="24.6" fill="#111111" stroke="#111111" stroke-width="0.4">0</text>
<text transform="translate(172.52 128.70) scale(0.980 1)" font-size="24.6" fill="#111111" stroke="#111111" stroke-width="0.4">5</text>
<text transform="translate(186.87 128.70) scale(0.980 1)" font-size="24.6" fill="#111111" stroke="#111111" stroke-width="0.4">4</text>
<text transform="translate(244.12 68.30) scale(0.980 1)" font-size="24.6" fill="#111111" stroke="#111111" stroke-width="0.4">5</text>
<text transform="translate(258.47 68.30) scale(0.980 1)" font-size="24.6" fill="#111111" stroke="#111111" stroke-width="0.4">6</text>
<text transform="translate(298.02 89.70) scale(0.980 1)" font-size="24.6" fill="#111111" stroke="#111111" stroke-width="0.4">5</text>
<text transform="translate(312.37 89.70) scale(0.980 1)" font-size="24.6" fill="#111111" stroke="#111111" stroke-width="0.4">5</text>
<text transform="translate(284.92 154.80) scale(0.980 1)" font-size="24.6" fill="#111111" stroke="#111111" stroke-width="0.4">5</text>
<text transform="translate(299.27 154.80) scale(0.980 1)" font-size="24.6" fill="#111111" stroke="#111111" stroke-width="0.4">6</text>
<text transform="translate(257.42 173.70) scale(0.980 1)" font-size="24.6" fill="#111111" stroke="#111111" stroke-width="0.4">5</text>
<text transform="translate(271.77 173.70) scale(0.980 1)" font-size="24.6" fill="#111111" stroke="#111111" stroke-width="0.4">6</text>
<text transform="translate(122.22 201.70) scale(0.980 1)" font-size="24.6" fill="#111111" stroke="#111111" stroke-width="0.4">4</text>
<text transform="translate(136.57 201.70) scale(0.980 1)" font-size="24.6" fill="#111111" stroke="#111111" stroke-width="0.4">9</text>
<text transform="translate(172.42 202.20) scale(0.980 1)" font-size="24.6" fill="#111111" stroke="#111111" stroke-width="0.4">4</text>
<text transform="translate(186.77 202.20) scale(0.980 1)" font-size="24.6" fill="#111111" stroke="#111111" stroke-width="0.4">8</text>
<text transform="translate(79.12 193.40) scale(0.980 1)" font-size="24.6" fill="#111111" stroke="#111111" stroke-width="0.4">4</text>
<text transform="translate(93.47 193.40) scale(0.980 1)" font-size="24.6" fill="#111111" stroke="#111111" stroke-width="0.4">5</text>
<text transform="translate(147.32 235.30) scale(0.980 1)" font-size="24.6" fill="#111111" stroke="#111111" stroke-width="0.4">4</text>
<text transform="translate(161.67 235.30) scale(0.980 1)" font-size="24.6" fill="#111111" stroke="#111111" stroke-width="0.4">4</text>
<text transform="translate(35.92 228.40) scale(0.980 1)" font-size="24.6" fill="#111111" stroke="#111111" stroke-width="0.4">4</text>
<text transform="translate(50.27 228.40) scale(0.980 1)" font-size="24.6" fill="#111111" stroke="#111111" stroke-width="0.4">7</text>
<text transform="translate(30.12 279.30) scale(0.980 1)" font-size="24.6" fill="#111111" stroke="#111111" stroke-width="0.4">4</text>
<text transform="translate(44.47 279.30) scale(0.980 1)" font-size="24.6" fill="#111111" stroke="#111111" stroke-width="0.4">6</text>
<text transform="translate(42.94 347.20) scale(0.980 1)" font-size="24.6" fill="#111111" stroke="#111111" stroke-width="0.4">2</text>
<path d="M297.86,254.60 L297.86,236.99 L296.49,236.99 C295.86,238.36 293.69,240.58 291.50,241.56 L291.50,243.65 C293.21,242.91 294.90,241.81 295.74,240.82 L295.74,254.60 Z" fill="#111111" stroke="#111111" stroke-width="0.4"/>
<path d="M334.26,240.80 L334.26,223.19 L332.89,223.19 C332.26,224.56 330.09,226.78 327.90,227.76 L327.90,229.85 C329.61,229.11 331.30,228.01 332.14,227.02 L332.14,240.80 Z" fill="#111111" stroke="#111111" stroke-width="0.4"/>
<text transform="translate(339.62 240.80) scale(0.980 1)" font-size="24.6" fill="#111111" stroke="#111111" stroke-width="0.4">7</text>
<path d="M363.76,141.60 L363.76,123.99 L362.39,123.99 C361.76,125.36 359.59,127.58 357.40,128.56 L357.40,130.65 C359.11,129.91 360.80,128.81 361.64,127.82 L361.64,141.60 Z" fill="#111111" stroke="#111111" stroke-width="0.4"/>
<text transform="translate(369.12 141.60) scale(0.980 1)" font-size="24.6" fill="#111111" stroke="#111111" stroke-width="0.4">8</text>
<path d="M425.16,123.30 L425.16,105.69 L423.79,105.69 C423.16,107.06 420.99,109.28 418.80,110.26 L418.80,112.35 C420.51,111.61 422.20,110.51 423.04,109.52 L423.04,123.30 Z" fill="#111111" stroke="#111111" stroke-width="0.4"/>
<text transform="translate(430.52 123.30) scale(0.980 1)" font-size="24.6" fill="#111111" stroke="#111111" stroke-width="0.4">9</text>
<text transform="translate(453.74 101.00) scale(0.980 1)" font-size="24.6" fill="#111111" stroke="#111111" stroke-width="0.4">2</text>
<text transform="translate(468.09 101.00) scale(0.980 1)" font-size="24.6" fill="#111111" stroke="#111111" stroke-width="0.4">0</text>
<text transform="translate(496.34 88.50) scale(0.980 1)" font-size="24.6" fill="#111111" stroke="#111111" stroke-width="0.4">2</text>
<path d="M519.68,88.50 L519.68,70.89 L518.30,70.89 C517.68,72.26 515.51,74.48 513.31,75.46 L513.31,77.55 C515.03,76.81 516.71,75.71 517.56,74.72 L517.56,88.50 Z" fill="#111111" stroke="#111111" stroke-width="0.4"/>
<text transform="translate(539.04 79.70) scale(0.980 1)" font-size="24.6" fill="#111111" stroke="#111111" stroke-width="0.4">2</text>
<text transform="translate(553.39 79.70) scale(0.980 1)" font-size="24.6" fill="#111111" stroke="#111111" stroke-width="0.4">2</text>
<text transform="translate(579.64 81.00) scale(0.980 1)" font-size="24.6" fill="#111111" stroke="#111111" stroke-width="0.4">2</text>
<text transform="translate(593.99 81.00) scale(0.980 1)" font-size="24.6" fill="#111111" stroke="#111111" stroke-width="0.4">4</text>
<text transform="translate(620.44 55.90) scale(0.980 1)" font-size="24.6" fill="#111111" stroke="#111111" stroke-width="0.4">2</text>
<text transform="translate(634.79 55.90) scale(0.980 1)" font-size="24.6" fill="#111111" stroke="#111111" stroke-width="0.4">5</text>
<text transform="translate(654.24 70.90) scale(0.980 1)" font-size="24.6" fill="#111111" stroke="#111111" stroke-width="0.4">2</text>
<text transform="translate(668.59 70.90) scale(0.980 1)" font-size="24.6" fill="#111111" stroke="#111111" stroke-width="0.4">6</text>
<text transform="translate(680.64 53.40) scale(0.980 1)" font-size="24.6" fill="#111111" stroke="#111111" stroke-width="0.4">2</text>
<text transform="translate(694.99 53.40) scale(0.980 1)" font-size="24.6" fill="#111111" stroke="#111111" stroke-width="0.4">7</text>
<text transform="translate(711.94 113.60) scale(0.980 1)" font-size="24.6" fill="#111111" stroke="#111111" stroke-width="0.4">2</text>
<text transform="translate(726.29 113.60) scale(0.980 1)" font-size="24.6" fill="#111111" stroke="#111111" stroke-width="0.4">8</text>
<text transform="translate(408.99 236.30) scale(0.980 1)" font-size="24.6" fill="#111111" stroke="#111111" stroke-width="0.4">7</text>
<text transform="translate(409.92 256.40) scale(0.980 1)" font-size="24.6" fill="#111111" stroke="#111111" stroke-width="0.4">6</text>
<text transform="translate(406.72 286.00) scale(0.980 1)" font-size="24.6" fill="#111111" stroke="#111111" stroke-width="0.4">4</text>
<text transform="translate(476.32 326.90) scale(0.980 1)" font-size="24.6" fill="#111111" stroke="#111111" stroke-width="0.4">5</text>
<text transform="translate(509.14 230.30) scale(0.980 1)" font-size="24.6" fill="#111111" stroke="#111111" stroke-width="0.4">8</text>
<text transform="translate(560.04 202.80) scale(0.980 1)" font-size="24.6" fill="#111111" stroke="#111111" stroke-width="0.4">9</text>
<path d="M607.46,217.90 L607.46,200.29 L606.09,200.29 C605.46,201.66 603.29,203.88 601.10,204.86 L601.10,206.95 C602.81,206.21 604.50,205.11 605.34,204.12 L605.34,217.90 Z" fill="#111111" stroke="#111111" stroke-width="0.4"/>
<text transform="translate(612.82 217.90) scale(0.980 1)" font-size="24.6" fill="#111111" stroke="#111111" stroke-width="0.4">0</text>
<path d="M638.06,205.30 L638.06,187.69 L636.69,187.69 C636.06,189.06 633.89,191.28 631.70,192.26 L631.70,194.35 C633.41,193.61 635.10,192.51 635.94,191.52 L635.94,205.30 Z" fill="#111111" stroke="#111111" stroke-width="0.4"/>
<path d="M652.41,205.30 L652.41,187.69 L651.04,187.69 C650.41,189.06 648.24,191.28 646.05,192.26 L646.05,194.35 C647.76,193.61 649.45,192.51 650.29,191.52 L650.29,205.30 Z" fill="#111111" stroke="#111111" stroke-width="0.4"/>
<path d="M669.46,192.80 L669.46,175.19 L668.09,175.19 C667.46,176.56 665.29,178.78 663.10,179.76 L663.10,181.85 C664.81,181.11 666.50,180.01 667.34,179.02 L667.34,192.80 Z" fill="#111111" stroke="#111111" stroke-width="0.4"/>
<text transform="translate(674.82 192.80) scale(0.980 1)" font-size="24.6" fill="#111111" stroke="#111111" stroke-width="0.4">2</text>
<path d="M697.36,177.60 L697.36,159.99 L695.99,159.99 C695.36,161.36 693.19,163.58 691.00,164.56 L691.00,166.65 C692.71,165.91 694.40,164.81 695.24,163.82 L695.24,177.60 Z" fill="#111111" stroke="#111111" stroke-width="0.4"/>
<text transform="translate(702.72 177.60) scale(0.980 1)" font-size="24.6" fill="#111111" stroke="#111111" stroke-width="0.4">3</text>
<path d="M731.26,166.30 L731.26,148.69 L729.89,148.69 C729.26,150.06 727.09,152.28 724.90,153.26 L724.90,155.35 C726.61,154.61 728.30,153.51 729.14,152.52 L729.14,166.30 Z" fill="#111111" stroke="#111111" stroke-width="0.4"/>
<text transform="translate(736.62 166.30) scale(0.980 1)" font-size="24.6" fill="#111111" stroke="#111111" stroke-width="0.4">4</text>
<path d="M773.86,153.30 L773.86,135.69 L772.49,135.69 C771.86,137.06 769.69,139.28 767.50,140.26 L767.50,142.35 C769.21,141.61 770.90,140.51 771.74,139.52 L771.74,153.30 Z" fill="#111111" stroke="#111111" stroke-width="0.4"/>
<text transform="translate(779.22 153.30) scale(0.980 1)" font-size="24.6" fill="#111111" stroke="#111111" stroke-width="0.4">5</text>
<path d="M776.36,312.20 L776.36,294.59 L774.99,294.59 C774.36,295.96 772.19,298.18 770.00,299.16 L770.00,301.25 C771.71,300.51 773.40,299.41 774.24,298.42 L774.24,312.20 Z" fill="#111111" stroke="#111111" stroke-width="0.4"/>
<text transform="translate(781.72 312.20) scale(0.980 1)" font-size="24.6" fill="#111111" stroke="#111111" stroke-width="0.4">6</text>
<text transform="translate(401.74 359.60) scale(0.980 1)" font-size="24.6" fill="#111111" stroke="#111111" stroke-width="0.4">3</text>
<text transform="translate(251.02 482.20) scale(0.980 1)" font-size="24.6" fill="#111111" stroke="#111111" stroke-width="0.4">4</text>
<text transform="translate(265.37 482.20) scale(0.980 1)" font-size="24.6" fill="#111111" stroke="#111111" stroke-width="0.4">2</text>
<text transform="translate(369.14 481.00) scale(0.980 1)" font-size="24.6" fill="#111111" stroke="#111111" stroke-width="0.4">3</text>
<text transform="translate(383.49 481.00) scale(0.980 1)" font-size="24.6" fill="#111111" stroke="#111111" stroke-width="0.4">5</text>
<text transform="translate(390.44 502.30) scale(0.980 1)" font-size="24.6" fill="#111111" stroke="#111111" stroke-width="0.4">3</text>
<text transform="translate(404.79 502.30) scale(0.980 1)" font-size="24.6" fill="#111111" stroke="#111111" stroke-width="0.4">6</text>
<text transform="translate(418.04 518.60) scale(0.980 1)" font-size="24.6" fill="#111111" stroke="#111111" stroke-width="0.4">3</text>
<text transform="translate(432.39 518.60) scale(0.980 1)" font-size="24.6" fill="#111111" stroke="#111111" stroke-width="0.4">7</text>
<text transform="translate(500.34 467.50) scale(0.980 1)" font-size="24.6" fill="#111111" stroke="#111111" stroke-width="0.4">3</text>
<text transform="translate(514.69 467.50) scale(0.980 1)" font-size="24.6" fill="#111111" stroke="#111111" stroke-width="0.4">9</text>
<text transform="translate(566.04 492.50) scale(0.980 1)" font-size="24.6" fill="#111111" stroke="#111111" stroke-width="0.4">3</text>
<text transform="translate(580.39 492.50) scale(0.980 1)" font-size="24.6" fill="#111111" stroke="#111111" stroke-width="0.4">8</text>
<text transform="translate(484.02 543.20) scale(0.980 1)" font-size="24.6" fill="#111111" stroke="#111111" stroke-width="0.4">4</text>
<path d="M507.36,543.20 L507.36,525.59 L505.99,525.59 C505.36,526.96 503.19,529.18 501.00,530.16 L501.00,532.25 C502.71,531.52 504.39,530.41 505.24,529.42 L505.24,543.20 Z" fill="#111111" stroke="#111111" stroke-width="0.4"/>
<text transform="translate(616.94 409.70) scale(0.980 1)" font-size="24.6" fill="#111111" stroke="#111111" stroke-width="0.4">3</text>
<text transform="translate(631.29 409.70) scale(0.980 1)" font-size="24.6" fill="#111111" stroke="#111111" stroke-width="0.4">2</text>
</g>
<text x="244" y="296" font-size="56" fill="none" stroke="#a2a2a2" stroke-width="1.1" style="mix-blend-mode:multiply">AUTOPITER.RU</text>
</svg>
</body></html>
